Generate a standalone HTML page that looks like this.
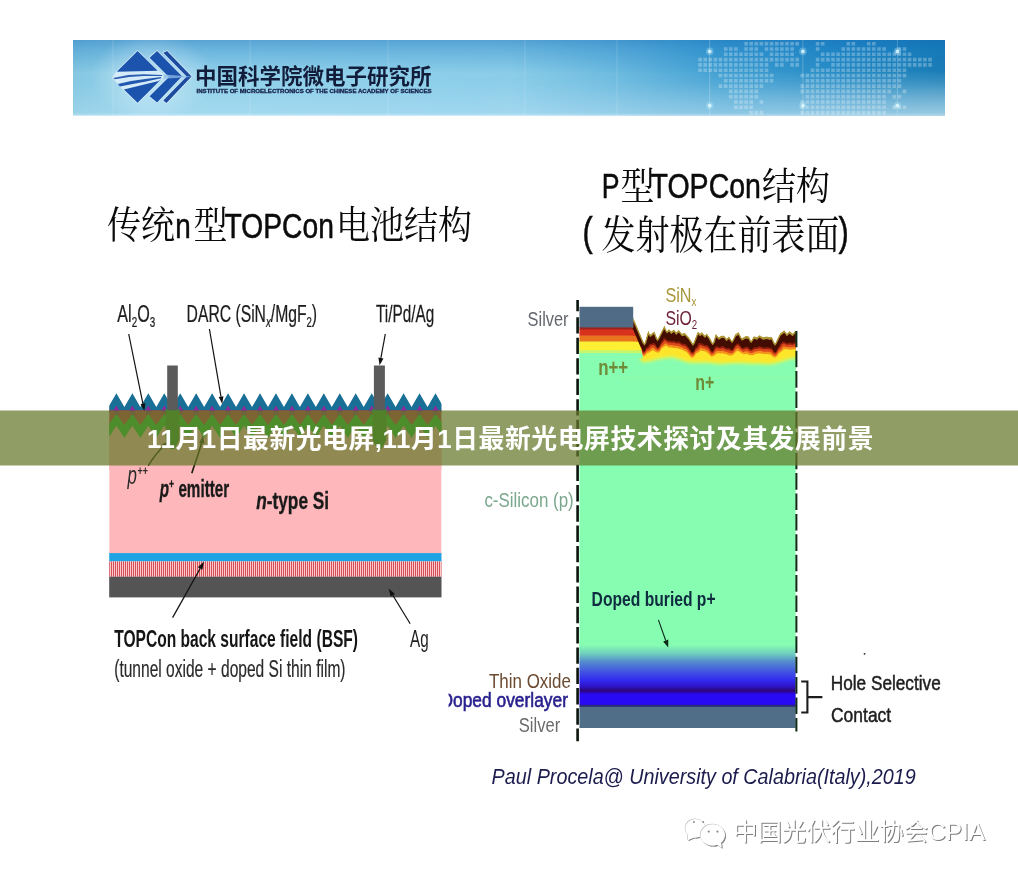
<!DOCTYPE html>
<html><head><meta charset="utf-8"><title>TOPCon</title>
<style>
html,body{margin:0;padding:0;background:#fff;}
body{width:1018px;height:877px;overflow:hidden;font-family:"Liberation Sans",sans-serif;}
svg{display:block;opacity:0.999;}
</style></head><body>
<svg width="1018" height="877" viewBox="0 0 1018 877" role="img" aria-label="11月1日最新光电屏,11月1日最新光电屏技术探讨及其发展前景">
<title>11月1日最新光电屏,11月1日最新光电屏技术探讨及其发展前景</title>
<desc>中国科学院微电子研究所 INSTITUTE OF MICROELECTRONICS OF THE CHINESE ACADEMY OF SCIENCES. 传统n型TOPCon电池结构; P型TOPCon结构 (发射极在前表面). 中国光伏行业协会CPIA</desc>
<defs>
<linearGradient id="bnH" x1="0" x2="1" y1="0" y2="0">
 <stop offset="0" stop-color="#86c8e2"/><stop offset="0.08" stop-color="#93d2ea"/><stop offset="0.5" stop-color="#8ccee9"/><stop offset="0.62" stop-color="#6dbbe0"/><stop offset="0.75" stop-color="#3f9fd2"/><stop offset="0.88" stop-color="#278cc6"/><stop offset="1" stop-color="#1a7db6"/>
</linearGradient>
<linearGradient id="bnV" x1="0" x2="0" y1="0" y2="1">
 <stop offset="0" stop-color="#0a64b4" stop-opacity="0.42"/><stop offset="0.12" stop-color="#0a6ebe" stop-opacity="0.3"/><stop offset="0.45" stop-color="#0a6ebe" stop-opacity="0"/><stop offset="0.6" stop-color="#d8f0ff" stop-opacity="0.02"/><stop offset="0.96" stop-color="#d8f0ff" stop-opacity="0.24"/><stop offset="1" stop-color="#e8f6fc" stop-opacity="0.5"/>
</linearGradient>
<linearGradient id="bnV2" x1="0" x2="0" y1="0" y2="1">
 <stop offset="0.4" stop-color="#cdeaf2" stop-opacity="0"/><stop offset="1" stop-color="#cdeaf2" stop-opacity="0.62"/>
</linearGradient>
<linearGradient id="mHg" x1="0" x2="1" y1="0" y2="0">
 <stop offset="0.45" stop-color="#000"/><stop offset="0.8" stop-color="#bbb"/><stop offset="1" stop-color="#fff"/>
</linearGradient>
<mask id="mH" maskUnits="userSpaceOnUse" x="73" y="40" width="872" height="76"><rect x="73" y="40" width="872" height="76" fill="url(#mHg)"/></mask>
<radialGradient id="glow" cx="0.5" cy="0.5" r="0.5">
 <stop offset="0" stop-color="#ffffff" stop-opacity="0.75"/><stop offset="0.6" stop-color="#ffffff" stop-opacity="0.35"/><stop offset="1" stop-color="#ffffff" stop-opacity="0"/>
</radialGradient>
<linearGradient id="rg" x1="0" x2="0" y1="0" y2="1">
 <stop offset="0" stop-color="#87fdb1"/><stop offset="0.09" stop-color="#87fdb1"/><stop offset="0.255" stop-color="#6ecdbe"/><stop offset="0.396" stop-color="#558ccd"/><stop offset="0.58" stop-color="#4155e1"/><stop offset="0.744" stop-color="#3228f0"/><stop offset="0.85" stop-color="#2e14c8"/><stop offset="0.93" stop-color="#2d0578"/><stop offset="1" stop-color="#280af5"/>
</linearGradient>
<pattern id="stripes" x="109" y="0" width="2" height="16" patternUnits="userSpaceOnUse">
 <rect x="0" y="0" width="2" height="16" fill="#fcc9c9"/><rect x="0" y="0" width="0.85" height="16" fill="#cf3a44"/>
</pattern>
<filter id="b1" x="-5%" y="-50%" width="110%" height="200%"><feGaussianBlur stdDeviation="0.7"/></filter>
<filter id="b2" x="-5%" y="-50%" width="110%" height="200%"><feGaussianBlur stdDeviation="1.4"/></filter>
<filter id="soft"><feGaussianBlur stdDeviation="0.45"/></filter>
<clipPath id="leftclip"><rect x="109.2" y="380" width="332.3" height="220"/></clipPath>
<clipPath id="rightclip"><rect x="579.2" y="300" width="216.6" height="430"/></clipPath>
<clipPath id="bnclip"><rect x="73" y="40" width="872" height="75.5"/></clipPath>
</defs>
<rect x="73" y="40" width="872" height="75.5" fill="url(#bnH)"/>
<rect x="73" y="40" width="872" height="75.5" fill="url(#bnV)"/>
<rect x="73" y="40" width="872" height="75.5" fill="url(#bnV2)" mask="url(#mH)"/>
<g clip-path="url(#bnclip)">
<ellipse cx="152" cy="77" rx="62" ry="44" fill="url(#glow)" opacity="0.55"/>
<rect x="112.5" y="40" width="1" height="76" fill="#ffffff" opacity="0.16"/>
<rect x="249.5" y="40" width="1" height="76" fill="#ffffff" opacity="0.16"/>
<rect x="387.5" y="40" width="1" height="76" fill="#ffffff" opacity="0.16"/>
<rect x="524.5" y="40" width="1" height="76" fill="#ffffff" opacity="0.16"/>
<rect x="616.5" y="40" width="1" height="76" fill="#ffffff" opacity="0.16"/>
<path d="M744.3 41.9h3.6v3.6h-3.6zM749.4 41.9h3.6v3.6h-3.6zM754.5 41.9h3.6v3.6h-3.6zM759.6 41.9h3.6v3.6h-3.6zM764.7 41.9h3.6v3.6h-3.6zM769.8 41.9h3.6v3.6h-3.6zM775.0 41.9h3.6v3.6h-3.6zM780.1 41.9h3.6v3.6h-3.6zM785.2 41.9h3.6v3.6h-3.6zM790.3 41.9h3.6v3.6h-3.6zM795.4 41.9h3.6v3.6h-3.6zM815.8 41.9h3.6v3.6h-3.6zM820.9 41.9h3.6v3.6h-3.6zM846.5 41.9h3.6v3.6h-3.6zM851.6 41.9h3.6v3.6h-3.6zM866.9 41.9h3.6v3.6h-3.6zM872.0 41.9h3.6v3.6h-3.6zM723.9 47.2h3.6v3.6h-3.6zM729.0 47.2h3.6v3.6h-3.6zM734.1 47.2h3.6v3.6h-3.6zM744.3 47.2h3.6v3.6h-3.6zM749.4 47.2h3.6v3.6h-3.6zM754.5 47.2h3.6v3.6h-3.6zM764.7 47.2h3.6v3.6h-3.6zM769.8 47.2h3.6v3.6h-3.6zM775.0 47.2h3.6v3.6h-3.6zM780.1 47.2h3.6v3.6h-3.6zM785.2 47.2h3.6v3.6h-3.6zM790.3 47.2h3.6v3.6h-3.6zM815.8 47.2h3.6v3.6h-3.6zM841.4 47.2h3.6v3.6h-3.6zM846.5 47.2h3.6v3.6h-3.6zM851.6 47.2h3.6v3.6h-3.6zM856.7 47.2h3.6v3.6h-3.6zM861.8 47.2h3.6v3.6h-3.6zM866.9 47.2h3.6v3.6h-3.6zM872.0 47.2h3.6v3.6h-3.6zM877.2 47.2h3.6v3.6h-3.6zM882.3 47.2h3.6v3.6h-3.6zM897.6 47.2h3.6v3.6h-3.6zM902.7 47.2h3.6v3.6h-3.6zM723.9 52.5h3.6v3.6h-3.6zM729.0 52.5h3.6v3.6h-3.6zM734.1 52.5h3.6v3.6h-3.6zM739.2 52.5h3.6v3.6h-3.6zM744.3 52.5h3.6v3.6h-3.6zM749.4 52.5h3.6v3.6h-3.6zM754.5 52.5h3.6v3.6h-3.6zM759.6 52.5h3.6v3.6h-3.6zM769.8 52.5h3.6v3.6h-3.6zM775.0 52.5h3.6v3.6h-3.6zM780.1 52.5h3.6v3.6h-3.6zM785.2 52.5h3.6v3.6h-3.6zM790.3 52.5h3.6v3.6h-3.6zM820.9 52.5h3.6v3.6h-3.6zM826.1 52.5h3.6v3.6h-3.6zM831.2 52.5h3.6v3.6h-3.6zM836.3 52.5h3.6v3.6h-3.6zM841.4 52.5h3.6v3.6h-3.6zM846.5 52.5h3.6v3.6h-3.6zM851.6 52.5h3.6v3.6h-3.6zM856.7 52.5h3.6v3.6h-3.6zM861.8 52.5h3.6v3.6h-3.6zM866.9 52.5h3.6v3.6h-3.6zM872.0 52.5h3.6v3.6h-3.6zM877.2 52.5h3.6v3.6h-3.6zM882.3 52.5h3.6v3.6h-3.6zM887.4 52.5h3.6v3.6h-3.6zM892.5 52.5h3.6v3.6h-3.6zM897.6 52.5h3.6v3.6h-3.6zM902.7 52.5h3.6v3.6h-3.6zM907.8 52.5h3.6v3.6h-3.6zM698.3 57.8h3.6v3.6h-3.6zM703.4 57.8h3.6v3.6h-3.6zM708.5 57.8h3.6v3.6h-3.6zM713.6 57.8h3.6v3.6h-3.6zM718.7 57.8h3.6v3.6h-3.6zM723.9 57.8h3.6v3.6h-3.6zM729.0 57.8h3.6v3.6h-3.6zM734.1 57.8h3.6v3.6h-3.6zM739.2 57.8h3.6v3.6h-3.6zM744.3 57.8h3.6v3.6h-3.6zM749.4 57.8h3.6v3.6h-3.6zM754.5 57.8h3.6v3.6h-3.6zM759.6 57.8h3.6v3.6h-3.6zM764.7 57.8h3.6v3.6h-3.6zM769.8 57.8h3.6v3.6h-3.6zM775.0 57.8h3.6v3.6h-3.6zM780.1 57.8h3.6v3.6h-3.6zM785.2 57.8h3.6v3.6h-3.6zM790.3 57.8h3.6v3.6h-3.6zM795.4 57.8h3.6v3.6h-3.6zM815.8 57.8h3.6v3.6h-3.6zM820.9 57.8h3.6v3.6h-3.6zM826.1 57.8h3.6v3.6h-3.6zM831.2 57.8h3.6v3.6h-3.6zM836.3 57.8h3.6v3.6h-3.6zM841.4 57.8h3.6v3.6h-3.6zM846.5 57.8h3.6v3.6h-3.6zM851.6 57.8h3.6v3.6h-3.6zM856.7 57.8h3.6v3.6h-3.6zM861.8 57.8h3.6v3.6h-3.6zM866.9 57.8h3.6v3.6h-3.6zM872.0 57.8h3.6v3.6h-3.6zM877.2 57.8h3.6v3.6h-3.6zM882.3 57.8h3.6v3.6h-3.6zM887.4 57.8h3.6v3.6h-3.6zM892.5 57.8h3.6v3.6h-3.6zM897.6 57.8h3.6v3.6h-3.6zM902.7 57.8h3.6v3.6h-3.6zM907.8 57.8h3.6v3.6h-3.6zM912.9 57.8h3.6v3.6h-3.6zM918.0 57.8h3.6v3.6h-3.6zM923.1 57.8h3.6v3.6h-3.6zM928.3 57.8h3.6v3.6h-3.6zM698.3 63.1h3.6v3.6h-3.6zM703.4 63.1h3.6v3.6h-3.6zM708.5 63.1h3.6v3.6h-3.6zM713.6 63.1h3.6v3.6h-3.6zM718.7 63.1h3.6v3.6h-3.6zM723.9 63.1h3.6v3.6h-3.6zM729.0 63.1h3.6v3.6h-3.6zM734.1 63.1h3.6v3.6h-3.6zM739.2 63.1h3.6v3.6h-3.6zM744.3 63.1h3.6v3.6h-3.6zM749.4 63.1h3.6v3.6h-3.6zM754.5 63.1h3.6v3.6h-3.6zM759.6 63.1h3.6v3.6h-3.6zM764.7 63.1h3.6v3.6h-3.6zM775.0 63.1h3.6v3.6h-3.6zM780.1 63.1h3.6v3.6h-3.6zM790.3 63.1h3.6v3.6h-3.6zM795.4 63.1h3.6v3.6h-3.6zM815.8 63.1h3.6v3.6h-3.6zM831.2 63.1h3.6v3.6h-3.6zM836.3 63.1h3.6v3.6h-3.6zM841.4 63.1h3.6v3.6h-3.6zM846.5 63.1h3.6v3.6h-3.6zM851.6 63.1h3.6v3.6h-3.6zM856.7 63.1h3.6v3.6h-3.6zM861.8 63.1h3.6v3.6h-3.6zM866.9 63.1h3.6v3.6h-3.6zM872.0 63.1h3.6v3.6h-3.6zM877.2 63.1h3.6v3.6h-3.6zM882.3 63.1h3.6v3.6h-3.6zM887.4 63.1h3.6v3.6h-3.6zM892.5 63.1h3.6v3.6h-3.6zM897.6 63.1h3.6v3.6h-3.6zM902.7 63.1h3.6v3.6h-3.6zM907.8 63.1h3.6v3.6h-3.6zM912.9 63.1h3.6v3.6h-3.6zM918.0 63.1h3.6v3.6h-3.6zM923.1 63.1h3.6v3.6h-3.6zM928.3 63.1h3.6v3.6h-3.6zM698.3 68.4h3.6v3.6h-3.6zM703.4 68.4h3.6v3.6h-3.6zM708.5 68.4h3.6v3.6h-3.6zM713.6 68.4h3.6v3.6h-3.6zM718.7 68.4h3.6v3.6h-3.6zM723.9 68.4h3.6v3.6h-3.6zM729.0 68.4h3.6v3.6h-3.6zM734.1 68.4h3.6v3.6h-3.6zM739.2 68.4h3.6v3.6h-3.6zM744.3 68.4h3.6v3.6h-3.6zM749.4 68.4h3.6v3.6h-3.6zM754.5 68.4h3.6v3.6h-3.6zM759.6 68.4h3.6v3.6h-3.6zM764.7 68.4h3.6v3.6h-3.6zM810.7 68.4h3.6v3.6h-3.6zM815.8 68.4h3.6v3.6h-3.6zM820.9 68.4h3.6v3.6h-3.6zM826.1 68.4h3.6v3.6h-3.6zM831.2 68.4h3.6v3.6h-3.6zM836.3 68.4h3.6v3.6h-3.6zM841.4 68.4h3.6v3.6h-3.6zM846.5 68.4h3.6v3.6h-3.6zM851.6 68.4h3.6v3.6h-3.6zM856.7 68.4h3.6v3.6h-3.6zM861.8 68.4h3.6v3.6h-3.6zM866.9 68.4h3.6v3.6h-3.6zM872.0 68.4h3.6v3.6h-3.6zM877.2 68.4h3.6v3.6h-3.6zM882.3 68.4h3.6v3.6h-3.6zM887.4 68.4h3.6v3.6h-3.6zM892.5 68.4h3.6v3.6h-3.6zM897.6 68.4h3.6v3.6h-3.6zM902.7 68.4h3.6v3.6h-3.6zM718.7 73.7h3.6v3.6h-3.6zM723.9 73.7h3.6v3.6h-3.6zM729.0 73.7h3.6v3.6h-3.6zM734.1 73.7h3.6v3.6h-3.6zM739.2 73.7h3.6v3.6h-3.6zM744.3 73.7h3.6v3.6h-3.6zM749.4 73.7h3.6v3.6h-3.6zM754.5 73.7h3.6v3.6h-3.6zM759.6 73.7h3.6v3.6h-3.6zM764.7 73.7h3.6v3.6h-3.6zM769.8 73.7h3.6v3.6h-3.6zM800.5 73.7h3.6v3.6h-3.6zM805.6 73.7h3.6v3.6h-3.6zM810.7 73.7h3.6v3.6h-3.6zM815.8 73.7h3.6v3.6h-3.6zM820.9 73.7h3.6v3.6h-3.6zM826.1 73.7h3.6v3.6h-3.6zM831.2 73.7h3.6v3.6h-3.6zM836.3 73.7h3.6v3.6h-3.6zM841.4 73.7h3.6v3.6h-3.6zM846.5 73.7h3.6v3.6h-3.6zM851.6 73.7h3.6v3.6h-3.6zM856.7 73.7h3.6v3.6h-3.6zM861.8 73.7h3.6v3.6h-3.6zM866.9 73.7h3.6v3.6h-3.6zM872.0 73.7h3.6v3.6h-3.6zM877.2 73.7h3.6v3.6h-3.6zM882.3 73.7h3.6v3.6h-3.6zM887.4 73.7h3.6v3.6h-3.6zM892.5 73.7h3.6v3.6h-3.6zM897.6 73.7h3.6v3.6h-3.6zM902.7 73.7h3.6v3.6h-3.6zM723.9 79.0h3.6v3.6h-3.6zM729.0 79.0h3.6v3.6h-3.6zM734.1 79.0h3.6v3.6h-3.6zM739.2 79.0h3.6v3.6h-3.6zM744.3 79.0h3.6v3.6h-3.6zM749.4 79.0h3.6v3.6h-3.6zM754.5 79.0h3.6v3.6h-3.6zM759.6 79.0h3.6v3.6h-3.6zM764.7 79.0h3.6v3.6h-3.6zM769.8 79.0h3.6v3.6h-3.6zM805.6 79.0h3.6v3.6h-3.6zM810.7 79.0h3.6v3.6h-3.6zM815.8 79.0h3.6v3.6h-3.6zM820.9 79.0h3.6v3.6h-3.6zM826.1 79.0h3.6v3.6h-3.6zM831.2 79.0h3.6v3.6h-3.6zM836.3 79.0h3.6v3.6h-3.6zM841.4 79.0h3.6v3.6h-3.6zM846.5 79.0h3.6v3.6h-3.6zM851.6 79.0h3.6v3.6h-3.6zM856.7 79.0h3.6v3.6h-3.6zM861.8 79.0h3.6v3.6h-3.6zM866.9 79.0h3.6v3.6h-3.6zM872.0 79.0h3.6v3.6h-3.6zM877.2 79.0h3.6v3.6h-3.6zM882.3 79.0h3.6v3.6h-3.6zM887.4 79.0h3.6v3.6h-3.6zM892.5 79.0h3.6v3.6h-3.6zM897.6 79.0h3.6v3.6h-3.6zM718.7 84.3h3.6v3.6h-3.6zM723.9 84.3h3.6v3.6h-3.6zM729.0 84.3h3.6v3.6h-3.6zM734.1 84.3h3.6v3.6h-3.6zM739.2 84.3h3.6v3.6h-3.6zM744.3 84.3h3.6v3.6h-3.6zM749.4 84.3h3.6v3.6h-3.6zM754.5 84.3h3.6v3.6h-3.6zM759.6 84.3h3.6v3.6h-3.6zM800.5 84.3h3.6v3.6h-3.6zM805.6 84.3h3.6v3.6h-3.6zM810.7 84.3h3.6v3.6h-3.6zM815.8 84.3h3.6v3.6h-3.6zM820.9 84.3h3.6v3.6h-3.6zM826.1 84.3h3.6v3.6h-3.6zM831.2 84.3h3.6v3.6h-3.6zM836.3 84.3h3.6v3.6h-3.6zM841.4 84.3h3.6v3.6h-3.6zM846.5 84.3h3.6v3.6h-3.6zM851.6 84.3h3.6v3.6h-3.6zM856.7 84.3h3.6v3.6h-3.6zM861.8 84.3h3.6v3.6h-3.6zM866.9 84.3h3.6v3.6h-3.6zM872.0 84.3h3.6v3.6h-3.6zM877.2 84.3h3.6v3.6h-3.6zM882.3 84.3h3.6v3.6h-3.6zM887.4 84.3h3.6v3.6h-3.6zM892.5 84.3h3.6v3.6h-3.6zM897.6 84.3h3.6v3.6h-3.6zM729.0 89.6h3.6v3.6h-3.6zM734.1 89.6h3.6v3.6h-3.6zM739.2 89.6h3.6v3.6h-3.6zM744.3 89.6h3.6v3.6h-3.6zM749.4 89.6h3.6v3.6h-3.6zM754.5 89.6h3.6v3.6h-3.6zM800.5 89.6h3.6v3.6h-3.6zM805.6 89.6h3.6v3.6h-3.6zM810.7 89.6h3.6v3.6h-3.6zM815.8 89.6h3.6v3.6h-3.6zM820.9 89.6h3.6v3.6h-3.6zM826.1 89.6h3.6v3.6h-3.6zM831.2 89.6h3.6v3.6h-3.6zM836.3 89.6h3.6v3.6h-3.6zM841.4 89.6h3.6v3.6h-3.6zM846.5 89.6h3.6v3.6h-3.6zM851.6 89.6h3.6v3.6h-3.6zM856.7 89.6h3.6v3.6h-3.6zM861.8 89.6h3.6v3.6h-3.6zM866.9 89.6h3.6v3.6h-3.6zM872.0 89.6h3.6v3.6h-3.6zM877.2 89.6h3.6v3.6h-3.6zM882.3 89.6h3.6v3.6h-3.6zM887.4 89.6h3.6v3.6h-3.6zM902.7 89.6h3.6v3.6h-3.6zM729.0 94.9h3.6v3.6h-3.6zM734.1 94.9h3.6v3.6h-3.6zM739.2 94.9h3.6v3.6h-3.6zM744.3 94.9h3.6v3.6h-3.6zM749.4 94.9h3.6v3.6h-3.6zM754.5 94.9h3.6v3.6h-3.6zM805.6 94.9h3.6v3.6h-3.6zM810.7 94.9h3.6v3.6h-3.6zM815.8 94.9h3.6v3.6h-3.6zM820.9 94.9h3.6v3.6h-3.6zM826.1 94.9h3.6v3.6h-3.6zM831.2 94.9h3.6v3.6h-3.6zM836.3 94.9h3.6v3.6h-3.6zM841.4 94.9h3.6v3.6h-3.6zM846.5 94.9h3.6v3.6h-3.6zM851.6 94.9h3.6v3.6h-3.6zM856.7 94.9h3.6v3.6h-3.6zM861.8 94.9h3.6v3.6h-3.6zM866.9 94.9h3.6v3.6h-3.6zM872.0 94.9h3.6v3.6h-3.6zM877.2 94.9h3.6v3.6h-3.6zM882.3 94.9h3.6v3.6h-3.6zM892.5 94.9h3.6v3.6h-3.6zM897.6 94.9h3.6v3.6h-3.6zM734.1 100.2h3.6v3.6h-3.6zM739.2 100.2h3.6v3.6h-3.6zM744.3 100.2h3.6v3.6h-3.6zM749.4 100.2h3.6v3.6h-3.6zM759.6 100.2h3.6v3.6h-3.6zM800.5 100.2h3.6v3.6h-3.6zM805.6 100.2h3.6v3.6h-3.6zM810.7 100.2h3.6v3.6h-3.6zM815.8 100.2h3.6v3.6h-3.6zM820.9 100.2h3.6v3.6h-3.6zM826.1 100.2h3.6v3.6h-3.6zM831.2 100.2h3.6v3.6h-3.6zM836.3 100.2h3.6v3.6h-3.6zM841.4 100.2h3.6v3.6h-3.6zM846.5 100.2h3.6v3.6h-3.6zM851.6 100.2h3.6v3.6h-3.6zM856.7 100.2h3.6v3.6h-3.6zM861.8 100.2h3.6v3.6h-3.6zM866.9 100.2h3.6v3.6h-3.6zM872.0 100.2h3.6v3.6h-3.6zM877.2 100.2h3.6v3.6h-3.6zM882.3 100.2h3.6v3.6h-3.6zM734.1 105.5h3.6v3.6h-3.6zM739.2 105.5h3.6v3.6h-3.6zM744.3 105.5h3.6v3.6h-3.6zM749.4 105.5h3.6v3.6h-3.6zM800.5 105.5h3.6v3.6h-3.6zM805.6 105.5h3.6v3.6h-3.6zM810.7 105.5h3.6v3.6h-3.6zM815.8 105.5h3.6v3.6h-3.6zM820.9 105.5h3.6v3.6h-3.6zM826.1 105.5h3.6v3.6h-3.6zM831.2 105.5h3.6v3.6h-3.6zM836.3 105.5h3.6v3.6h-3.6zM841.4 105.5h3.6v3.6h-3.6zM846.5 105.5h3.6v3.6h-3.6zM851.6 105.5h3.6v3.6h-3.6zM856.7 105.5h3.6v3.6h-3.6zM861.8 105.5h3.6v3.6h-3.6zM866.9 105.5h3.6v3.6h-3.6zM872.0 105.5h3.6v3.6h-3.6zM877.2 105.5h3.6v3.6h-3.6zM882.3 105.5h3.6v3.6h-3.6zM892.5 105.5h3.6v3.6h-3.6zM897.6 105.5h3.6v3.6h-3.6zM902.7 105.5h3.6v3.6h-3.6zM749.4 110.8h3.6v3.6h-3.6zM754.5 110.8h3.6v3.6h-3.6zM759.6 110.8h3.6v3.6h-3.6zM800.5 110.8h3.6v3.6h-3.6zM805.6 110.8h3.6v3.6h-3.6zM810.7 110.8h3.6v3.6h-3.6zM815.8 110.8h3.6v3.6h-3.6zM820.9 110.8h3.6v3.6h-3.6zM826.1 110.8h3.6v3.6h-3.6zM831.2 110.8h3.6v3.6h-3.6zM836.3 110.8h3.6v3.6h-3.6zM841.4 110.8h3.6v3.6h-3.6zM846.5 110.8h3.6v3.6h-3.6zM851.6 110.8h3.6v3.6h-3.6zM856.7 110.8h3.6v3.6h-3.6zM861.8 110.8h3.6v3.6h-3.6zM866.9 110.8h3.6v3.6h-3.6zM872.0 110.8h3.6v3.6h-3.6zM877.2 110.8h3.6v3.6h-3.6zM882.3 110.8h3.6v3.6h-3.6z" fill="#ffffff" opacity="0.27" filter="url(#soft)"/>
<rect x="709.2" y="40" width="1" height="76" fill="#ffffff" opacity="0.22"/>
<circle cx="709.7" cy="51.4" r="3.8" fill="#bfefff" opacity="0.3"/>
<circle cx="709.7" cy="51.4" r="1.9" fill="#e6fbff" opacity="0.8"/>
<circle cx="709.7" cy="105.6" r="3.8" fill="#bfefff" opacity="0.3"/>
<circle cx="709.7" cy="105.6" r="1.9" fill="#e6fbff" opacity="0.8"/>
<rect x="802.4" y="40" width="1" height="76" fill="#ffffff" opacity="0.22"/>
<circle cx="802.9" cy="51.4" r="3.8" fill="#bfefff" opacity="0.3"/>
<circle cx="802.9" cy="51.4" r="1.9" fill="#e6fbff" opacity="0.8"/>
<circle cx="802.9" cy="105.6" r="3.8" fill="#bfefff" opacity="0.3"/>
<circle cx="802.9" cy="105.6" r="1.9" fill="#e6fbff" opacity="0.8"/>
<rect x="896.9" y="40" width="1" height="76" fill="#ffffff" opacity="0.22"/>
<circle cx="897.4" cy="51.4" r="3.8" fill="#bfefff" opacity="0.3"/>
<circle cx="897.4" cy="51.4" r="1.9" fill="#e6fbff" opacity="0.8"/>
<circle cx="897.4" cy="105.6" r="3.8" fill="#bfefff" opacity="0.3"/>
<circle cx="897.4" cy="105.6" r="1.9" fill="#e6fbff" opacity="0.8"/>
</g>
<g filter="url(#soft)">
<path d="M117.3 71.5L157.7 70.5L163.5 76.3L161.1 79.4L158.6 81.3L123.9 89.4L113.1 77.7Z" fill="#d6ebf8" stroke="#d3ebf8" stroke-width="1.6" stroke-linejoin="round" paint-order="stroke"/>
<path d="M137.6 51.1L157.7 70.7L117.3 71.8L117.2 71.2Z" fill="#1d52ac" stroke="#d3ebf8" stroke-width="1.6" stroke-linejoin="round" paint-order="stroke"/>
<path d="M123.9 89.4L158.6 81.1L161.2 79.2L137.6 102.8Z" fill="#1d52ac" stroke="#d3ebf8" stroke-width="1.6" stroke-linejoin="round" paint-order="stroke"/>
<path d="M113.1 78.0L128.3 75.1L143.4 74.2L162.1 75.1L162.1 75.9L143.4 75.9L129.2 77.1L114.9 79.2Z" fill="#2a5db2"/>
<path d="M117.9 84.0L131.0 81.0L145.1 78.9L161.2 77.1L161.2 78.2L146.0 81.5L132.8 84.0L119.9 86.4Z" fill="#2358b0"/>
<path d="M149.6 57.7L157.1 51.1L182.1 76.3L157.1 102.4L149.6 96.2L169.0 76.9Z" fill="#1d52ac" stroke="#d3ebf8" stroke-width="1.6" stroke-linejoin="round" paint-order="stroke"/>
<path d="M163.3 52.7L167.1 51.1L191.6 76.5L166.5 102.9L163.3 100.6L186.7 76.5Z" fill="#1c4c9f" stroke="#d3ebf8" stroke-width="1.6" stroke-linejoin="round" paint-order="stroke"/>
<path d="M163.7 74.5L191.1 76.4L191.1 76.9L163.7 78.7Z" fill="#8fbdea" opacity="0.75"/>
</g>
<text x="195" y="84" font-family="'Liberation Sans', 'Noto Sans CJK SC', sans-serif" font-size="21.5" font-weight="bold" fill="#121d3c">中国科学院微电子研究所</text>
<text transform="translate(196.50 93.10) scale(1.0700 1)" font-family="Liberation Sans, sans-serif" fill="#16224a" xml:space="preserve" stroke="#16224a" stroke-width="0.3"><tspan font-size="5.7" font-weight="bold" font-style="normal" dy="0">INSTITUTE OF MICROELECTRONICS OF THE CHINESE ACADEMY OF SCIENCES</tspan></text>
<text transform="translate(107.00 237.80) scale(0.895 1)" font-family="'Liberation Sans', 'Noto Serif CJK SC', serif" font-size="38" fill="#0b0b0b">传统</text>
<text transform="translate(193.50 237.80) scale(0.895 1)" font-family="'Liberation Sans', 'Noto Serif CJK SC', serif" font-size="38" fill="#0b0b0b">型</text>
<text transform="translate(336.00 237.80) scale(0.895 1)" font-family="'Liberation Sans', 'Noto Serif CJK SC', serif" font-size="38" fill="#0b0b0b">电池结构</text>
<text transform="translate(620.50 198.60) scale(0.895 1)" font-family="'Liberation Sans', 'Noto Serif CJK SC', serif" font-size="38" fill="#0b0b0b">型</text>
<text transform="translate(762.00 198.60) scale(0.895 1)" font-family="'Liberation Sans', 'Noto Serif CJK SC', serif" font-size="38" fill="#0b0b0b">结构</text>
<text transform="translate(601.50 249.00) scale(0.85 1)" font-family="'Liberation Sans', 'Noto Serif CJK SC', serif" font-size="40" fill="#0b0b0b">发射极在前表面</text>
<text transform="translate(175.30 237.80) scale(0.8008 1)" font-family="Liberation Sans, sans-serif" fill="#0b0b0b" xml:space="preserve" stroke="#0b0b0b" stroke-width="0.55"><tspan font-size="34.8" font-weight="normal" font-style="normal" dy="0">n</tspan></text>
<text transform="translate(224.50 237.80) scale(0.8126 1)" font-family="Liberation Sans, sans-serif" fill="#0b0b0b" xml:space="preserve" stroke="#0b0b0b" stroke-width="0.55"><tspan font-size="34.8" font-weight="normal" font-style="normal" dy="0">TOPCon</tspan></text>
<text transform="translate(601.80 198.40) scale(0.7669 1)" font-family="Liberation Sans, sans-serif" fill="#0b0b0b" xml:space="preserve" stroke="#0b0b0b" stroke-width="0.55"><tspan font-size="34.8" font-weight="normal" font-style="normal" dy="0">P</tspan></text>
<text transform="translate(650.50 198.40) scale(0.8200 1)" font-family="Liberation Sans, sans-serif" fill="#0b0b0b" xml:space="preserve" stroke="#0b0b0b" stroke-width="0.55"><tspan font-size="34.8" font-weight="normal" font-style="normal" dy="0">TOPCon</tspan></text>
<text transform="translate(582.60 246.40) scale(0.7657 1)" font-family="Liberation Sans, sans-serif" fill="#0b0b0b" xml:space="preserve" stroke="#0b0b0b" stroke-width="0.55"><tspan font-size="40" font-weight="normal" font-style="normal" dy="0">(</tspan></text>
<text transform="translate(838.40 246.40) scale(0.7657 1)" font-family="Liberation Sans, sans-serif" fill="#0b0b0b" xml:space="preserve" stroke="#0b0b0b" stroke-width="0.55"><tspan font-size="40" font-weight="normal" font-style="normal" dy="0">)</tspan></text>
<g clip-path="url(#leftclip)">
<rect x="109.2" y="410" width="332.3" height="144" fill="#feb8bc"/>
<path d="M92.47 407.10L100.45 393.30L108.42 407.10L116.40 393.30L124.38 407.10L132.36 393.30L140.33 407.10L148.31 393.30L156.29 407.10L164.27 393.30L172.24 407.10L180.22 393.30L188.20 407.10L196.18 393.30L204.15 407.10L212.13 393.30L220.11 407.10L228.09 393.30L236.06 407.10L244.04 393.30L252.02 407.10L260.00 393.30L267.97 407.10L275.95 393.30L283.93 407.10L291.90 393.30L299.88 407.10L307.86 393.30L315.84 407.10L323.81 393.30L331.79 407.10L339.77 393.30L347.75 407.10L355.73 393.30L363.70 407.10L371.68 393.30L379.66 407.10L387.63 393.30L395.61 407.10L403.59 393.30L411.57 407.10L419.54 393.30L427.52 407.10L435.50 393.30L443.48 407.10L451.46 393.30L460 413L90 413Z" fill="#1a6f96"/>
<rect x="109.2" y="410.3" width="332.3" height="20" fill="#b8324e"/>
<path d="M112.90 411.5L116.40 405.4L119.90 411.5Z" fill="#8e2a9c" filter="url(#soft)"/>
<rect x="114.20" y="410.3" width="4.4" height="5" fill="#5a2f7a" opacity="0.55"/>
<path d="M128.86 411.5L132.36 405.4L135.86 411.5Z" fill="#8e2a9c" filter="url(#soft)"/>
<rect x="130.16" y="410.3" width="4.4" height="5" fill="#5a2f7a" opacity="0.55"/>
<path d="M144.81 411.5L148.31 405.4L151.81 411.5Z" fill="#8e2a9c" filter="url(#soft)"/>
<rect x="146.11" y="410.3" width="4.4" height="5" fill="#5a2f7a" opacity="0.55"/>
<path d="M160.77 411.5L164.27 405.4L167.77 411.5Z" fill="#8e2a9c" filter="url(#soft)"/>
<rect x="162.07" y="410.3" width="4.4" height="5" fill="#5a2f7a" opacity="0.55"/>
<path d="M176.72 411.5L180.22 405.4L183.72 411.5Z" fill="#8e2a9c" filter="url(#soft)"/>
<rect x="178.02" y="410.3" width="4.4" height="5" fill="#5a2f7a" opacity="0.55"/>
<path d="M192.68 411.5L196.18 405.4L199.68 411.5Z" fill="#8e2a9c" filter="url(#soft)"/>
<rect x="193.98" y="410.3" width="4.4" height="5" fill="#5a2f7a" opacity="0.55"/>
<path d="M208.63 411.5L212.13 405.4L215.63 411.5Z" fill="#8e2a9c" filter="url(#soft)"/>
<rect x="209.93" y="410.3" width="4.4" height="5" fill="#5a2f7a" opacity="0.55"/>
<path d="M224.59 411.5L228.09 405.4L231.59 411.5Z" fill="#8e2a9c" filter="url(#soft)"/>
<rect x="225.89" y="410.3" width="4.4" height="5" fill="#5a2f7a" opacity="0.55"/>
<path d="M240.54 411.5L244.04 405.4L247.54 411.5Z" fill="#8e2a9c" filter="url(#soft)"/>
<rect x="241.84" y="410.3" width="4.4" height="5" fill="#5a2f7a" opacity="0.55"/>
<path d="M256.50 411.5L260.00 405.4L263.50 411.5Z" fill="#8e2a9c" filter="url(#soft)"/>
<rect x="257.80" y="410.3" width="4.4" height="5" fill="#5a2f7a" opacity="0.55"/>
<path d="M272.45 411.5L275.95 405.4L279.45 411.5Z" fill="#8e2a9c" filter="url(#soft)"/>
<rect x="273.75" y="410.3" width="4.4" height="5" fill="#5a2f7a" opacity="0.55"/>
<path d="M288.40 411.5L291.90 405.4L295.40 411.5Z" fill="#8e2a9c" filter="url(#soft)"/>
<rect x="289.70" y="410.3" width="4.4" height="5" fill="#5a2f7a" opacity="0.55"/>
<path d="M304.36 411.5L307.86 405.4L311.36 411.5Z" fill="#8e2a9c" filter="url(#soft)"/>
<rect x="305.66" y="410.3" width="4.4" height="5" fill="#5a2f7a" opacity="0.55"/>
<path d="M320.31 411.5L323.81 405.4L327.31 411.5Z" fill="#8e2a9c" filter="url(#soft)"/>
<rect x="321.62" y="410.3" width="4.4" height="5" fill="#5a2f7a" opacity="0.55"/>
<path d="M336.27 411.5L339.77 405.4L343.27 411.5Z" fill="#8e2a9c" filter="url(#soft)"/>
<rect x="337.57" y="410.3" width="4.4" height="5" fill="#5a2f7a" opacity="0.55"/>
<path d="M352.23 411.5L355.73 405.4L359.23 411.5Z" fill="#8e2a9c" filter="url(#soft)"/>
<rect x="353.53" y="410.3" width="4.4" height="5" fill="#5a2f7a" opacity="0.55"/>
<path d="M368.18 411.5L371.68 405.4L375.18 411.5Z" fill="#8e2a9c" filter="url(#soft)"/>
<rect x="369.48" y="410.3" width="4.4" height="5" fill="#5a2f7a" opacity="0.55"/>
<path d="M384.13 411.5L387.63 405.4L391.13 411.5Z" fill="#8e2a9c" filter="url(#soft)"/>
<rect x="385.44" y="410.3" width="4.4" height="5" fill="#5a2f7a" opacity="0.55"/>
<path d="M400.09 411.5L403.59 405.4L407.09 411.5Z" fill="#8e2a9c" filter="url(#soft)"/>
<rect x="401.39" y="410.3" width="4.4" height="5" fill="#5a2f7a" opacity="0.55"/>
<path d="M416.04 411.5L419.54 405.4L423.04 411.5Z" fill="#8e2a9c" filter="url(#soft)"/>
<rect x="417.34" y="410.3" width="4.4" height="5" fill="#5a2f7a" opacity="0.55"/>
<path d="M432.00 411.5L435.50 405.4L439.00 411.5Z" fill="#8e2a9c" filter="url(#soft)"/>
<rect x="433.30" y="410.3" width="4.4" height="5" fill="#5a2f7a" opacity="0.55"/>
<path d="M92.47 424.90L100.45 413.90L108.42 424.90L116.40 413.90L124.38 424.90L132.36 413.90L140.33 424.90L148.31 413.90L156.29 424.90L164.27 413.90L172.24 424.90L180.22 413.90L188.20 424.90L196.18 413.90L204.15 424.90L212.13 413.90L220.11 424.90L228.09 413.90L236.06 424.90L244.04 413.90L252.02 424.90L260.00 413.90L267.97 424.90L275.95 413.90L283.93 424.90L291.90 413.90L299.88 424.90L307.86 413.90L315.84 424.90L323.81 413.90L331.79 424.90L339.77 413.90L347.75 424.90L355.73 413.90L363.70 424.90L371.68 413.90L379.66 424.90L387.63 413.90L395.61 424.90L403.59 413.90L411.57 424.90L419.54 413.90L427.52 424.90L435.50 413.90L443.48 424.90L451.46 413.90L451.46 425.70L443.48 438.30L435.50 425.70L427.52 438.30L419.54 425.70L411.57 438.30L403.59 425.70L395.61 438.30L387.63 425.70L379.66 438.30L371.68 425.70L363.70 438.30L355.73 425.70L347.75 438.30L339.77 425.70L331.79 438.30L323.81 425.70L315.84 438.30L307.86 425.70L299.88 438.30L291.90 425.70L283.93 438.30L275.95 425.70L267.97 438.30L260.00 425.70L252.02 438.30L244.04 425.70L236.06 438.30L228.09 425.70L220.11 438.30L212.13 425.70L204.15 438.30L196.18 425.70L188.20 438.30L180.22 425.70L172.24 438.30L164.27 425.70L156.29 438.30L148.31 425.70L140.33 438.30L132.36 425.70L124.38 438.30L116.40 425.70L108.42 438.30L100.45 425.70L92.47 438.30Z" fill="#12c430" />
<path d="M92.47 438.30L100.45 425.70L108.42 438.30L116.40 425.70L124.38 438.30L132.36 425.70L140.33 438.30L148.31 425.70L156.29 438.30L164.27 425.70L172.24 438.30L180.22 425.70L188.20 438.30L196.18 425.70L204.15 438.30L212.13 425.70L220.11 438.30L228.09 425.70L236.06 438.30L244.04 425.70L252.02 438.30L260.00 425.70L267.97 438.30L275.95 425.70L283.93 438.30L291.90 425.70L299.88 438.30L307.86 425.70L315.84 438.30L323.81 425.70L331.79 438.30L339.77 425.70L347.75 438.30L355.73 425.70L363.70 438.30L371.68 425.70L379.66 438.30L387.63 425.70L395.61 438.30L403.59 425.70L411.57 438.30L419.54 425.70L427.52 438.30L435.50 425.70L443.48 438.30L451.46 425.70L460 470L90 470Z" fill="#feb8bc"/>
<path d="M165.7 409L179.3 409L179.3 440L174.5 449L170.5 449L165.7 440Z" fill="#239a2c"/>
<path d="M372.4 409L386.4 409L386.4 440L381.4 449L377.4 449L372.4 440Z" fill="#239a2c"/>
</g>
<rect x="167.2" y="365.5" width="10.6" height="45" fill="#5b5b5b"/>
<rect x="373.9" y="365.5" width="11.0" height="45" fill="#5b5b5b"/>
<rect x="109.2" y="553.1" width="332.3" height="8.4" fill="#1ea3e3"/>
<rect x="109.2" y="561.4" width="332.3" height="15.4" fill="url(#stripes)"/>
<rect x="109.2" y="576.7" width="332.3" height="20.7" fill="#545454"/>
<text transform="translate(117.30 321.80) scale(0.6588 1)" font-family="Liberation Sans, sans-serif" fill="#1c1c1c" xml:space="preserve" stroke="#1c1c1c" stroke-width="0.25"><tspan font-size="24.5" font-weight="normal" font-style="normal" dy="0">Al</tspan><tspan font-size="15" font-weight="normal" font-style="normal" dy="5">2</tspan><tspan font-size="24.5" font-weight="normal" font-style="normal" dy="-5">O</tspan><tspan font-size="15" font-weight="normal" font-style="normal" dy="5">3</tspan></text>
<text transform="translate(186.60 321.80) scale(0.6412 1)" font-family="Liberation Sans, sans-serif" fill="#1c1c1c" xml:space="preserve" stroke="#1c1c1c" stroke-width="0.25"><tspan font-size="24.5" font-weight="normal" font-style="normal" dy="0">DARC (SiN</tspan><tspan font-size="15" font-weight="normal" font-style="italic" dy="5">x</tspan><tspan font-size="24.5" font-weight="normal" font-style="normal" dy="-5">/MgF</tspan><tspan font-size="15" font-weight="normal" font-style="normal" dy="5">2</tspan><tspan font-size="24.5" font-weight="normal" font-style="normal" dy="-5">)</tspan></text>
<text transform="translate(376.00 322.00) scale(0.6255 1)" font-family="Liberation Sans, sans-serif" fill="#1c1c1c" xml:space="preserve" stroke="#1c1c1c" stroke-width="0.25"><tspan font-size="24.5" font-weight="normal" font-style="normal" dy="0">Ti/Pd/Ag</tspan></text>
<path d="M128.7 334.0L142.9 403.7" stroke="#111" stroke-width="1.2" fill="none"/>
<path d="M144.4 411.0L140.5 404.1L145.3 403.2Z" fill="#111"/>
<path d="M209.4 329.0L221.0 396.6" stroke="#111" stroke-width="1.2" fill="none"/>
<path d="M222.3 404.0L218.7 397.0L223.4 396.2Z" fill="#111"/>
<path d="M385.3 334.0L380.9 357.9" stroke="#111" stroke-width="1.2" fill="none"/>
<path d="M379.6 365.3L378.4 357.5L383.5 358.4Z" fill="#111"/>
<text transform="translate(127.60 483.60) scale(0.6761 1)" font-family="Liberation Sans, sans-serif" fill="#2a2a2a" xml:space="preserve" ><tspan font-size="25" font-weight="normal" font-style="italic" dy="0">p</tspan></text>
<text transform="translate(137.60 475.20) scale(0.7123 1)" font-family="Liberation Sans, sans-serif" fill="#2a2a2a" xml:space="preserve" ><tspan font-size="12.5" font-weight="bold" font-style="normal" dy="0">++</tspan></text>
<text transform="translate(159.80 497.20) scale(0.6627 1)" font-family="Liberation Sans, sans-serif" fill="#1a1a1a" xml:space="preserve" stroke="#1a1a1a" stroke-width="0.35"><tspan font-size="23" font-weight="bold" font-style="italic" dy="0">p</tspan><tspan font-size="13" font-weight="bold" font-style="normal" dy="-9">+</tspan><tspan font-size="23" font-weight="bold" font-style="normal" dy="9"> emitter</tspan></text>
<text transform="translate(256.20 509.00) scale(0.7516 1)" font-family="Liberation Sans, sans-serif" fill="#1a1a1a" xml:space="preserve" stroke="#1a1a1a" stroke-width="0.35"><tspan font-size="23" font-weight="bold" font-style="italic" dy="0">n</tspan><tspan font-size="23" font-weight="bold" font-style="normal" dy="0">-type Si</tspan></text>
<path d="M148.3 465.6C153 458 158 451 165 445" stroke="#141c08" stroke-width="1.6" fill="none"/>
<path d="M167.6 441.6L161.6 444.6L165.2 448.4Z" fill="#1c2a10"/>
<path d="M191.8 473.2C195.4 462 199.6 451 201.8 442" stroke="#141c08" stroke-width="1.6" fill="none"/>
<path d="M203.0 435.6L199.2 443.0L204.4 443.8Z" fill="#1c2a10"/>
<text transform="translate(114.20 646.70) scale(0.6495 1)" font-family="Liberation Sans, sans-serif" fill="#151515" xml:space="preserve" ><tspan font-size="24" font-weight="bold" font-style="normal" dy="0">TOPCon back surface field (BSF)</tspan></text>
<text transform="translate(114.20 677.00) scale(0.6484 1)" font-family="Liberation Sans, sans-serif" fill="#2a2a2a" xml:space="preserve" stroke="#2a2a2a" stroke-width="0.2"><tspan font-size="24" font-weight="normal" font-style="normal" dy="0">(tunnel oxide + doped Si thin film)</tspan></text>
<text transform="translate(410.00 646.70) scale(0.6336 1)" font-family="Liberation Sans, sans-serif" fill="#222" xml:space="preserve" ><tspan font-size="24" font-weight="normal" font-style="normal" dy="0">Ag</tspan></text>
<path d="M172.6 617.6L200.1 568.6" stroke="#111" stroke-width="1.2" fill="none"/>
<path d="M204.0 561.6L202.4 569.8L197.8 567.3Z" fill="#111"/>
<path d="M410.2 623.7L392.8 595.2" stroke="#111" stroke-width="1.2" fill="none"/>
<path d="M388.6 588.4L395.0 593.9L390.6 596.6Z" fill="#111"/>
<g clip-path="url(#rightclip)">
<rect x="579.3" y="340" width="216.5" height="310" fill="#87fdb1"/>
<clipPath id="jagclip"><path d="M620 327.4L633.2 327.4L633.2 300L800 300L800 380L620 380Z"/></clipPath>
<g clip-path="url(#jagclip)">
<path d="M606.0 259.9L606.5 259.9L607.0 259.9L607.5 259.9L608.0 259.9L608.5 259.9L609.0 259.9L609.5 259.9L610.0 259.9L610.5 261.1L611.0 262.4L611.5 263.6L612.0 264.8L612.5 266.1L613.0 267.3L613.5 268.5L614.0 269.7L614.5 271.0L615.0 272.2L615.5 273.4L616.0 274.7L616.5 275.9L617.0 277.1L617.5 278.4L618.0 279.6L618.5 280.8L619.0 282.0L619.5 283.3L620.0 284.5L620.5 285.7L621.0 287.0L621.5 288.2L622.0 289.4L622.5 290.7L623.0 291.9L623.5 293.1L624.0 294.4L624.5 295.6L625.0 296.8L625.5 298.0L626.0 299.3L626.5 300.5L627.0 301.7L627.5 303.0L628.0 304.2L628.5 305.4L629.0 306.7L629.5 307.9L630.0 309.1L630.5 310.3L631.0 311.6L631.5 312.8L632.0 314.0L632.5 315.3L633.0 316.5L633.5 317.7L634.0 318.8L634.5 320.0L635.0 321.2L635.5 322.4L636.0 323.5L636.5 324.7L637.0 325.9L637.5 327.0L638.0 328.2L638.5 329.4L639.0 330.6L639.5 331.8L640.0 332.9L640.5 334.1L641.0 335.3L641.5 336.5L642.0 337.6L642.5 338.7L643.0 339.9L643.5 341.0L644.0 342.2L644.5 342.7L645.0 341.0L645.5 339.2L646.0 337.5L646.5 335.8L647.0 334.0L647.5 332.3L648.0 330.5L648.5 330.5L649.0 331.7L649.5 332.8L650.0 334.0L650.5 333.9L651.0 333.5L651.5 333.1L652.0 332.8L652.5 332.4L653.0 332.0L653.5 331.6L654.0 331.3L654.5 330.9L655.0 332.1L655.5 333.4L656.0 334.6L656.5 335.9L657.0 337.1L657.5 338.4L658.0 337.8L658.5 336.8L659.0 335.8L659.5 334.8L660.0 333.8L660.5 332.8L661.0 331.7L661.5 330.7L662.0 329.7L662.5 328.7L663.0 327.7L663.5 326.7L664.0 325.7L664.5 325.1L665.0 326.3L665.5 327.5L666.0 328.6L666.5 329.8L667.0 330.6L667.5 330.1L668.0 329.6L668.5 329.1L669.0 328.6L669.5 329.0L670.0 329.6L670.5 330.2L671.0 330.7L671.5 330.9L672.0 330.5L672.5 330.1L673.0 329.7L673.5 329.3L674.0 328.9L674.5 329.6L675.0 330.3L675.5 331.0L676.0 331.7L676.5 331.7L677.0 331.2L677.5 330.7L678.0 330.2L678.5 329.7L679.0 329.7L679.5 330.3L680.0 330.9L680.5 331.5L681.0 332.2L681.5 332.8L682.0 333.3L682.5 333.1L683.0 333.0L683.5 332.9L684.0 332.8L684.5 332.6L685.0 332.5L685.5 333.1L686.0 333.6L686.5 334.1L687.0 334.7L687.5 335.2L688.0 335.8L688.5 336.3L689.0 336.9L689.5 337.7L690.0 338.4L690.5 339.2L691.0 340.0L691.5 340.8L692.0 341.5L692.5 342.3L693.0 343.1L693.5 341.8L694.0 340.6L694.5 339.3L695.0 338.0L695.5 336.7L696.0 335.5L696.5 334.2L697.0 332.9L697.5 331.7L698.0 331.1L698.5 331.6L699.0 332.2L699.5 332.7L700.0 333.2L700.5 332.9L701.0 332.4L701.5 331.9L702.0 331.8L702.5 332.4L703.0 333.0L703.5 333.5L704.0 334.1L704.5 334.6L705.0 335.0L705.5 334.4L706.0 333.8L706.5 333.1L707.0 333.3L707.5 334.0L708.0 334.7L708.5 335.4L709.0 336.1L709.5 336.8L710.0 337.5L710.5 338.4L711.0 339.3L711.5 340.2L712.0 341.2L712.5 342.1L713.0 342.1L713.5 340.4L714.0 338.8L714.5 337.2L715.0 335.6L715.5 333.9L716.0 333.6L716.5 334.2L717.0 334.8L717.5 335.4L718.0 336.0L718.5 336.6L719.0 336.8L719.5 336.4L720.0 336.1L720.5 335.8L721.0 335.4L721.5 335.1L722.0 335.1L722.5 335.1L723.0 335.1L723.5 335.1L724.0 335.1L724.5 335.6L725.0 336.3L725.5 337.0L726.0 337.7L726.5 338.1L727.0 337.7L727.5 337.3L728.0 336.8L728.5 336.4L729.0 336.0L729.5 336.7L730.0 337.4L730.5 338.1L731.0 338.8L731.5 339.5L732.0 340.3L732.5 339.5L733.0 338.5L733.5 337.4L734.0 336.4L734.5 335.3L735.0 334.2L735.5 333.6L736.0 333.3L736.5 333.0L737.0 332.7L737.5 332.4L738.0 332.0L738.5 331.7L739.0 332.2L739.5 333.2L740.0 334.2L740.5 335.2L741.0 336.2L741.5 337.2L742.0 337.7L742.5 337.4L743.0 337.1L743.5 336.9L744.0 336.6L744.5 336.3L745.0 336.0L745.5 335.8L746.0 335.6L746.5 335.7L747.0 335.8L747.5 335.8L748.0 335.9L748.5 335.9L749.0 336.2L749.5 337.2L750.0 338.2L750.5 339.2L751.0 340.2L751.5 339.7L752.0 338.8L752.5 337.9L753.0 337.0L753.5 336.1L754.0 335.7L754.5 335.9L755.0 336.1L755.5 336.3L756.0 336.5L756.5 336.7L757.0 336.8L757.5 336.4L758.0 336.0L758.5 335.5L759.0 335.1L759.5 334.7L760.0 335.0L760.5 335.3L761.0 335.6L761.5 335.9L762.0 336.2L762.5 336.5L763.0 336.8L763.5 336.8L764.0 336.7L764.5 336.5L765.0 336.4L765.5 336.3L766.0 336.2L766.5 336.0L767.0 336.1L767.5 336.3L768.0 336.4L768.5 336.6L769.0 336.7L769.5 336.8L770.0 336.8L770.5 336.7L771.0 336.6L771.5 336.5L772.0 336.6L772.5 337.7L773.0 338.8L773.5 339.9L774.0 340.9L774.5 342.0L775.0 343.1L775.5 342.1L776.0 341.1L776.5 340.0L777.0 339.0L777.5 338.0L778.0 337.0L778.5 336.0L779.0 334.9L779.5 333.9L780.0 333.1L780.5 332.8L781.0 332.4L781.5 332.0L782.0 331.6L782.5 331.2L783.0 330.8L783.5 330.4L784.0 330.0L784.5 330.1L785.0 330.7L785.5 331.4L786.0 332.1L786.5 332.8L787.0 333.2L787.5 332.7L788.0 332.2L788.5 331.8L789.0 331.3L789.5 330.8L790.0 331.0L790.5 331.5L791.0 331.9L791.5 332.3L792.0 332.7L792.5 333.1L793.0 332.9L793.5 332.3L794.0 331.8L794.5 331.2L795.0 330.6L795.5 330.3L796.0 330.4L796.5 330.6L797.0 330.7L797.5 330.7L798.0 330.7L798.5 330.7L799.0 330.7L799.5 330.7L800.0 330.7L800 376L606.0 376Z" fill="#ffffff" />
<path d="M606.0 260.2L606.5 260.2L607.0 260.2L607.5 260.2L608.0 260.2L608.5 260.2L609.0 260.2L609.5 260.2L610.0 260.2L610.5 261.4L611.0 262.7L611.5 263.9L612.0 265.1L612.5 266.4L613.0 267.6L613.5 268.8L614.0 270.0L614.5 271.3L615.0 272.5L615.5 273.7L616.0 275.0L616.5 276.2L617.0 277.4L617.5 278.7L618.0 279.9L618.5 281.1L619.0 282.3L619.5 283.6L620.0 284.8L620.5 286.0L621.0 287.3L621.5 288.5L622.0 289.7L622.5 291.0L623.0 292.2L623.5 293.4L624.0 294.7L624.5 295.9L625.0 297.1L625.5 298.3L626.0 299.6L626.5 300.8L627.0 302.0L627.5 303.3L628.0 304.5L628.5 305.7L629.0 307.0L629.5 308.2L630.0 309.4L630.5 310.6L631.0 311.9L631.5 313.1L632.0 314.3L632.5 315.6L633.0 316.8L633.5 318.0L634.0 319.1L634.5 320.3L635.0 321.5L635.5 322.7L636.0 323.8L636.5 325.0L637.0 326.2L637.5 327.3L638.0 328.5L638.5 329.7L639.0 330.9L639.5 332.1L640.0 333.2L640.5 334.4L641.0 335.6L641.5 336.8L642.0 337.9L642.5 339.0L643.0 340.2L643.5 341.3L644.0 342.5L644.5 343.0L645.0 341.3L645.5 339.5L646.0 337.8L646.5 336.1L647.0 334.3L647.5 332.6L648.0 330.8L648.5 330.8L649.0 332.0L649.5 333.1L650.0 334.3L650.5 334.2L651.0 333.8L651.5 333.4L652.0 333.1L652.5 332.7L653.0 332.3L653.5 331.9L654.0 331.6L654.5 331.2L655.0 332.4L655.5 333.7L656.0 334.9L656.5 336.2L657.0 337.4L657.5 338.7L658.0 338.1L658.5 337.1L659.0 336.1L659.5 335.1L660.0 334.1L660.5 333.1L661.0 332.0L661.5 331.0L662.0 330.0L662.5 329.0L663.0 328.0L663.5 327.0L664.0 326.0L664.5 325.4L665.0 326.6L665.5 327.8L666.0 328.9L666.5 330.1L667.0 330.9L667.5 330.4L668.0 329.9L668.5 329.4L669.0 328.9L669.5 329.3L670.0 329.9L670.5 330.5L671.0 331.0L671.5 331.2L672.0 330.8L672.5 330.4L673.0 330.0L673.5 329.6L674.0 329.2L674.5 329.9L675.0 330.6L675.5 331.3L676.0 332.0L676.5 332.0L677.0 331.5L677.5 331.0L678.0 330.5L678.5 330.0L679.0 330.0L679.5 330.6L680.0 331.2L680.5 331.8L681.0 332.5L681.5 333.1L682.0 333.6L682.5 333.4L683.0 333.3L683.5 333.2L684.0 333.1L684.5 332.9L685.0 332.8L685.5 333.4L686.0 333.9L686.5 334.4L687.0 335.0L687.5 335.6L688.0 336.1L688.5 336.6L689.0 337.2L689.5 338.0L690.0 338.8L690.5 339.5L691.0 340.3L691.5 341.1L692.0 341.8L692.5 342.6L693.0 343.4L693.5 342.1L694.0 340.9L694.5 339.6L695.0 338.3L695.5 337.0L696.0 335.8L696.5 334.5L697.0 333.2L697.5 332.0L698.0 331.4L698.5 331.9L699.0 332.5L699.5 333.0L700.0 333.5L700.5 333.2L701.0 332.7L701.5 332.2L702.0 332.1L702.5 332.7L703.0 333.3L703.5 333.8L704.0 334.4L704.5 334.9L705.0 335.3L705.5 334.7L706.0 334.1L706.5 333.4L707.0 333.6L707.5 334.3L708.0 335.0L708.5 335.7L709.0 336.4L709.5 337.1L710.0 337.8L710.5 338.7L711.0 339.6L711.5 340.6L712.0 341.5L712.5 342.4L713.0 342.4L713.5 340.7L714.0 339.1L714.5 337.5L715.0 335.9L715.5 334.2L716.0 333.9L716.5 334.5L717.0 335.1L717.5 335.7L718.0 336.3L718.5 336.9L719.0 337.1L719.5 336.7L720.0 336.4L720.5 336.1L721.0 335.7L721.5 335.4L722.0 335.4L722.5 335.4L723.0 335.4L723.5 335.4L724.0 335.4L724.5 335.9L725.0 336.6L725.5 337.3L726.0 338.0L726.5 338.4L727.0 338.0L727.5 337.6L728.0 337.1L728.5 336.7L729.0 336.3L729.5 337.0L730.0 337.7L730.5 338.4L731.0 339.1L731.5 339.8L732.0 340.6L732.5 339.8L733.0 338.8L733.5 337.7L734.0 336.7L734.5 335.6L735.0 334.5L735.5 333.9L736.0 333.6L736.5 333.3L737.0 333.0L737.5 332.7L738.0 332.3L738.5 332.0L739.0 332.5L739.5 333.5L740.0 334.5L740.5 335.5L741.0 336.5L741.5 337.5L742.0 338.0L742.5 337.7L743.0 337.4L743.5 337.2L744.0 336.9L744.5 336.6L745.0 336.3L745.5 336.1L746.0 335.9L746.5 336.0L747.0 336.1L747.5 336.1L748.0 336.2L748.5 336.2L749.0 336.5L749.5 337.5L750.0 338.5L750.5 339.5L751.0 340.5L751.5 340.0L752.0 339.1L752.5 338.2L753.0 337.3L753.5 336.4L754.0 336.0L754.5 336.2L755.0 336.4L755.5 336.6L756.0 336.8L756.5 337.0L757.0 337.1L757.5 336.7L758.0 336.3L758.5 335.8L759.0 335.4L759.5 335.0L760.0 335.3L760.5 335.6L761.0 335.9L761.5 336.2L762.0 336.5L762.5 336.8L763.0 337.1L763.5 337.1L764.0 337.0L764.5 336.8L765.0 336.7L765.5 336.6L766.0 336.5L766.5 336.3L767.0 336.4L767.5 336.6L768.0 336.7L768.5 336.9L769.0 337.0L769.5 337.1L770.0 337.1L770.5 337.0L771.0 336.9L771.5 336.8L772.0 336.9L772.5 338.0L773.0 339.1L773.5 340.2L774.0 341.2L774.5 342.3L775.0 343.4L775.5 342.4L776.0 341.4L776.5 340.3L777.0 339.3L777.5 338.3L778.0 337.3L778.5 336.3L779.0 335.2L779.5 334.2L780.0 333.4L780.5 333.1L781.0 332.7L781.5 332.3L782.0 331.9L782.5 331.5L783.0 331.1L783.5 330.7L784.0 330.3L784.5 330.4L785.0 331.0L785.5 331.7L786.0 332.4L786.5 333.1L787.0 333.5L787.5 333.0L788.0 332.5L788.5 332.1L789.0 331.6L789.5 331.1L790.0 331.3L790.5 331.8L791.0 332.2L791.5 332.6L792.0 333.0L792.5 333.4L793.0 333.2L793.5 332.6L794.0 332.1L794.5 331.5L795.0 330.9L795.5 330.6L796.0 330.7L796.5 330.9L797.0 331.0L797.5 331.0L798.0 331.0L798.5 331.0L799.0 331.0L799.5 331.0L800.0 331.0L800 376L606.0 376Z" fill="#ad9434" filter="url(#soft)"/>
<path d="M606.0 262.9L606.5 262.9L607.0 262.9L607.5 262.9L608.0 262.9L608.5 262.9L609.0 262.9L609.5 263.2L610.0 264.4L610.5 265.7L611.0 266.9L611.5 268.1L612.0 269.4L612.5 270.6L613.0 271.8L613.5 273.1L614.0 274.3L614.5 275.5L615.0 276.8L615.5 278.0L616.0 279.2L616.5 280.4L617.0 281.7L617.5 282.9L618.0 284.1L618.5 285.4L619.0 286.6L619.5 287.8L620.0 289.1L620.5 290.3L621.0 291.5L621.5 292.7L622.0 294.0L622.5 295.2L623.0 296.4L623.5 297.7L624.0 298.9L624.5 300.1L625.0 301.4L625.5 302.6L626.0 303.8L626.5 305.1L627.0 306.3L627.5 307.5L628.0 308.7L628.5 310.0L629.0 311.2L629.5 312.4L630.0 313.7L630.5 314.9L631.0 316.1L631.5 317.4L632.0 318.5L632.5 319.7L633.0 320.9L633.5 322.0L634.0 323.2L634.5 324.4L635.0 325.6L635.5 326.7L636.0 327.9L636.5 329.1L637.0 330.3L637.5 331.4L638.0 332.6L638.5 333.8L639.0 335.0L639.5 336.2L640.0 337.3L640.5 338.5L641.0 339.6L641.5 340.8L642.0 341.9L642.5 343.0L643.0 343.7L643.5 344.3L644.0 345.2L644.5 345.7L645.0 344.6L645.5 344.3L646.0 343.6L646.5 341.9L647.0 340.1L647.5 338.4L648.0 336.6L648.5 334.9L649.0 335.5L649.5 335.8L650.0 337.0L650.5 336.9L651.0 336.5L651.5 336.1L652.0 335.8L652.5 335.4L653.0 335.0L653.5 334.6L654.0 334.3L654.5 335.5L655.0 336.7L655.5 338.0L656.0 339.2L656.5 339.9L657.0 340.2L657.5 341.4L658.0 340.8L658.5 339.9L659.0 339.3L659.5 338.7L660.0 337.6L660.5 336.6L661.0 335.6L661.5 334.6L662.0 333.6L662.5 332.6L663.0 331.6L663.5 330.6L664.0 329.6L664.5 329.5L665.0 330.6L665.5 331.5L666.0 332.1L666.5 332.8L667.0 333.6L667.5 333.1L668.0 332.6L668.5 332.1L669.0 331.6L669.5 332.0L670.0 332.6L670.5 333.2L671.0 333.7L671.5 333.9L672.0 333.5L672.5 333.1L673.0 332.7L673.5 332.3L674.0 331.9L674.5 332.6L675.0 333.3L675.5 334.0L676.0 334.7L676.5 334.7L677.0 334.2L677.5 333.7L678.0 333.2L678.5 332.7L679.0 332.7L679.5 333.3L680.0 333.9L680.5 334.5L681.0 335.2L681.5 335.8L682.0 336.3L682.5 336.1L683.0 336.0L683.5 335.9L684.0 335.8L684.5 335.6L685.0 335.5L685.5 336.1L686.0 336.6L686.5 337.1L687.0 337.7L687.5 338.2L688.0 338.8L688.5 339.3L689.0 340.1L689.5 340.9L690.0 341.6L690.5 342.4L691.0 343.2L691.5 344.0L692.0 344.6L692.5 345.3L693.0 346.1L693.5 344.9L694.0 344.6L694.5 344.0L695.0 342.7L695.5 341.4L696.0 340.1L696.5 338.9L697.0 337.6L697.5 336.3L698.0 335.1L698.5 334.6L699.0 335.2L699.5 335.7L700.0 336.2L700.5 335.9L701.0 335.4L701.5 334.9L702.0 334.8L702.5 335.4L703.0 336.0L703.5 336.5L704.0 337.1L704.5 337.6L705.0 338.0L705.5 337.4L706.0 336.8L706.5 336.1L707.0 336.3L707.5 337.0L708.0 337.7L708.5 338.4L709.0 339.2L709.5 340.2L710.0 341.1L710.5 342.0L711.0 343.0L711.5 343.7L712.0 344.2L712.5 345.1L713.0 345.1L713.5 343.9L714.0 343.6L714.5 342.9L715.0 341.3L715.5 339.7L716.0 338.0L716.5 337.2L717.0 337.8L717.5 338.4L718.0 339.0L718.5 339.6L719.0 339.8L719.5 339.4L720.0 339.1L720.5 338.8L721.0 338.4L721.5 338.1L722.0 338.1L722.5 338.1L723.0 338.1L723.5 338.1L724.0 338.1L724.5 338.6L725.0 339.3L725.5 340.0L726.0 340.7L726.5 341.1L727.0 340.7L727.5 340.3L728.0 339.8L728.5 339.4L729.0 339.0L729.5 339.7L730.0 340.4L730.5 341.1L731.0 341.8L731.5 342.5L732.0 343.3L732.5 342.5L733.0 341.8L733.5 341.1L734.0 340.4L734.5 339.3L735.0 338.3L735.5 337.2L736.0 336.3L736.5 336.0L737.0 335.7L737.5 335.4L738.0 335.0L738.5 335.1L739.0 336.1L739.5 337.1L740.0 338.1L740.5 338.7L741.0 339.2L741.5 340.2L742.0 340.7L742.5 340.4L743.0 340.1L743.5 339.9L744.0 339.6L744.5 339.3L745.0 339.0L745.5 338.8L746.0 338.6L746.5 338.7L747.0 338.8L747.5 338.8L748.0 338.9L748.5 339.1L749.0 340.1L749.5 341.1L750.0 341.7L750.5 342.2L751.0 343.2L751.5 342.7L752.0 341.8L752.5 341.2L753.0 340.5L753.5 339.7L754.0 338.8L754.5 338.9L755.0 339.1L755.5 339.3L756.0 339.5L756.5 339.7L757.0 339.8L757.5 339.4L758.0 339.0L758.5 338.5L759.0 338.1L759.5 337.7L760.0 338.0L760.5 338.3L761.0 338.6L761.5 338.9L762.0 339.2L762.5 339.5L763.0 339.8L763.5 339.8L764.0 339.7L764.5 339.5L765.0 339.4L765.5 339.3L766.0 339.2L766.5 339.0L767.0 339.1L767.5 339.3L768.0 339.4L768.5 339.6L769.0 339.7L769.5 339.8L770.0 339.8L770.5 339.7L771.0 339.6L771.5 339.6L772.0 340.7L772.5 341.8L773.0 342.9L773.5 344.0L774.0 344.6L774.5 345.0L775.0 346.1L775.5 345.1L776.0 344.6L776.5 344.0L777.0 342.9L777.5 341.9L778.0 340.9L778.5 339.9L779.0 338.9L779.5 337.8L780.0 336.8L780.5 335.8L781.0 335.4L781.5 335.0L782.0 334.6L782.5 334.2L783.0 333.8L783.5 333.4L784.0 333.0L784.5 333.1L785.0 333.7L785.5 334.4L786.0 335.1L786.5 335.8L787.0 336.2L787.5 335.7L788.0 335.2L788.5 334.8L789.0 334.3L789.5 333.8L790.0 334.0L790.5 334.5L791.0 334.9L791.5 335.3L792.0 335.7L792.5 336.1L793.0 335.9L793.5 335.3L794.0 334.8L794.5 334.2L795.0 333.6L795.5 333.3L796.0 333.4L796.5 333.6L797.0 333.7L797.5 333.7L798.0 333.7L798.5 333.7L799.0 333.7L799.5 333.7L800.0 333.7L800 376L606.0 376Z" fill="#430b06" filter="url(#soft)"/>
<path d="M606.0 270.8L606.5 270.8L607.0 270.8L607.5 270.8L608.0 270.8L608.5 270.8L609.0 271.0L609.5 272.2L610.0 273.5L610.5 274.7L611.0 275.9L611.5 277.1L612.0 278.4L612.5 279.6L613.0 280.8L613.5 282.1L614.0 283.3L614.5 284.5L615.0 285.8L615.5 287.0L616.0 288.2L616.5 289.4L617.0 290.7L617.5 291.9L618.0 293.1L618.5 294.4L619.0 295.6L619.5 296.8L620.0 298.1L620.5 299.3L621.0 300.5L621.5 301.8L622.0 303.0L622.5 304.2L623.0 305.4L623.5 306.7L624.0 307.9L624.5 309.1L625.0 310.4L625.5 311.6L626.0 312.8L626.5 314.1L627.0 315.3L627.5 316.5L628.0 317.7L628.5 319.0L629.0 320.2L629.5 321.3L630.0 322.5L630.5 323.7L631.0 324.8L631.5 326.0L632.0 327.2L632.5 328.4L633.0 329.5L633.5 330.7L634.0 331.9L634.5 333.1L635.0 334.2L635.5 335.4L636.0 336.6L636.5 337.8L637.0 338.9L637.5 340.1L638.0 341.2L638.5 342.4L639.0 343.5L639.5 344.7L640.0 345.5L640.5 346.1L641.0 346.6L641.5 347.3L642.0 348.5L642.5 349.6L643.0 350.7L643.5 351.4L644.0 351.6L644.5 351.4L645.0 350.8L645.5 349.8L646.0 348.4L646.5 347.6L647.0 347.4L647.5 347.0L648.0 346.6L648.5 346.0L649.0 345.2L649.5 343.5L650.0 343.7L650.5 344.0L651.0 344.1L651.5 344.0L652.0 343.7L652.5 343.3L653.0 342.9L653.5 342.8L654.0 342.9L654.5 343.2L655.0 343.7L655.5 344.5L656.0 345.5L656.5 346.5L657.0 347.2L657.5 347.5L658.0 347.5L658.5 347.2L659.0 346.6L659.5 345.7L660.0 344.7L660.5 343.7L661.0 342.6L661.5 341.7L662.0 341.1L662.5 340.3L663.0 339.3L663.5 338.3L664.0 337.7L664.5 337.7L665.0 338.0L665.5 338.6L666.0 339.2L666.5 339.8L667.0 340.2L667.5 340.4L668.0 340.4L668.5 340.4L669.0 340.3L669.5 340.4L670.0 340.6L670.5 340.8L671.0 341.0L671.5 341.2L672.0 341.1L672.5 340.9L673.0 340.8L673.5 340.7L674.0 340.8L674.5 341.0L675.0 341.3L675.5 341.5L676.0 341.8L676.5 341.9L677.0 341.8L677.5 341.6L678.0 341.4L678.5 341.3L679.0 341.3L679.5 341.5L680.0 341.9L680.5 342.4L681.0 342.9L681.5 343.3L682.0 343.6L682.5 343.8L683.0 343.8L683.5 343.8L684.0 343.8L684.5 343.8L685.0 344.0L685.5 344.2L686.0 344.6L686.5 345.1L687.0 345.6L687.5 346.2L688.0 346.7L688.5 347.3L689.0 348.0L689.5 348.7L690.0 349.4L690.5 350.1L691.0 350.9L691.5 351.7L692.0 352.2L692.5 352.3L693.0 352.2L693.5 351.9L694.0 351.2L694.5 350.2L695.0 348.9L695.5 347.7L696.0 347.4L696.5 347.0L697.0 346.4L697.5 345.6L698.0 344.3L698.5 343.1L699.0 343.1L699.5 343.2L700.0 343.3L700.5 343.3L701.0 343.4L701.5 343.4L702.0 343.5L702.5 343.6L703.0 343.9L703.5 344.4L704.0 344.7L704.5 344.9L705.0 345.0L705.5 344.9L706.0 344.9L706.5 344.9L707.0 345.0L707.5 345.3L708.0 345.7L708.5 346.3L709.0 347.0L709.5 347.8L710.0 348.6L710.5 349.4L711.0 350.3L711.5 351.0L712.0 351.4L712.5 351.5L713.0 351.2L713.5 350.5L714.0 349.5L714.5 348.3L715.0 347.2L715.5 346.7L716.0 346.4L716.5 345.9L717.0 345.8L717.5 346.2L718.0 346.6L718.5 346.9L719.0 347.0L719.5 347.0L720.0 346.9L720.5 346.7L721.0 346.5L721.5 346.3L722.0 346.1L722.5 346.0L723.0 346.1L723.5 346.3L724.0 346.5L724.5 346.9L725.0 347.3L725.5 347.7L726.0 348.0L726.5 348.2L727.0 348.2L727.5 348.0L728.0 347.9L728.5 347.8L729.0 347.9L729.5 348.1L730.0 348.5L730.5 349.0L731.0 349.5L731.5 349.8L732.0 349.8L732.5 349.5L733.0 349.0L733.5 348.3L734.0 347.3L734.5 346.4L735.0 345.6L735.5 345.0L736.0 344.4L736.5 343.9L737.0 343.6L737.5 343.4L738.0 343.4L738.5 343.5L739.0 343.9L739.5 344.4L740.0 345.2L740.5 346.0L741.0 346.8L741.5 347.3L742.0 347.7L742.5 347.9L743.0 347.9L743.5 347.8L744.0 347.5L744.5 347.2L745.0 347.0L745.5 346.9L746.0 346.8L746.5 346.7L747.0 346.7L747.5 346.7L748.0 347.0L748.5 347.3L749.0 347.8L749.5 348.4L750.0 349.0L750.5 349.4L751.0 349.6L751.5 349.6L752.0 349.3L752.5 348.8L753.0 348.2L753.5 347.7L754.0 347.3L754.5 347.1L755.0 347.1L755.5 347.2L756.0 347.3L756.5 347.3L757.0 347.2L757.5 347.1L758.0 346.8L758.5 346.6L759.0 346.3L759.5 346.2L760.0 346.2L760.5 346.3L761.0 346.5L761.5 346.8L762.0 347.1L762.5 347.3L763.0 347.4L763.5 347.5L764.0 347.5L764.5 347.4L765.0 347.3L765.5 347.2L766.0 347.2L766.5 347.1L767.0 347.2L767.5 347.2L768.0 347.3L768.5 347.4L769.0 347.5L769.5 347.6L770.0 347.6L770.5 347.6L771.0 347.7L771.5 348.0L772.0 348.4L772.5 349.0L773.0 349.8L773.5 350.8L774.0 351.5L774.5 352.0L775.0 352.2L775.5 352.1L776.0 351.7L776.5 350.9L777.0 349.9L777.5 348.9L778.0 347.9L778.5 347.0L779.0 346.4L779.5 345.6L780.0 344.6L780.5 343.9L781.0 343.3L781.5 342.9L782.0 342.5L782.5 342.1L783.0 341.8L783.5 341.6L784.0 341.6L784.5 341.7L785.0 342.0L785.5 342.4L786.0 342.8L786.5 343.1L787.0 343.2L787.5 343.2L788.0 343.0L788.5 342.8L789.0 342.5L789.5 342.4L790.0 342.4L790.5 342.5L791.0 342.8L791.5 343.1L792.0 343.3L792.5 343.3L793.0 343.2L793.5 343.0L794.0 342.6L794.5 342.2L795.0 341.9L795.5 341.7L796.0 341.5L796.5 341.5L797.0 341.5L797.5 341.5L798.0 341.6L798.5 341.6L799.0 341.6L799.5 341.6L800.0 341.6L800 376L606.0 376Z" fill="#8e1f0e" filter="url(#b1)"/>
<path d="M606.0 272.6L606.5 272.6L607.0 272.6L607.5 272.6L608.0 272.6L608.5 273.8L609.0 275.0L609.5 276.2L610.0 277.5L610.5 278.7L611.0 279.9L611.5 281.2L612.0 282.4L612.5 283.6L613.0 284.8L613.5 286.1L614.0 287.3L614.5 288.5L615.0 289.8L615.5 291.0L616.0 292.2L616.5 293.5L617.0 294.7L617.5 295.9L618.0 297.2L618.5 298.4L619.0 299.6L619.5 300.8L620.0 302.1L620.5 303.3L621.0 304.5L621.5 305.8L622.0 307.0L622.5 308.2L623.0 309.5L623.5 310.7L624.0 311.9L624.5 313.1L625.0 314.4L625.5 315.6L626.0 316.8L626.5 318.1L627.0 319.3L627.5 320.5L628.0 321.6L628.5 322.8L629.0 324.0L629.5 325.2L630.0 326.3L630.5 327.5L631.0 328.7L631.5 329.8L632.0 331.0L632.5 332.2L633.0 333.4L633.5 334.6L634.0 335.7L634.5 336.9L635.0 338.1L635.5 339.3L636.0 340.4L636.5 341.5L637.0 342.7L637.5 343.8L638.0 345.0L638.5 345.9L639.0 346.6L639.5 347.2L640.0 347.7L640.5 348.2L641.0 348.5L641.5 349.1L642.0 350.3L642.5 351.4L643.0 352.1L643.5 352.6L644.0 352.7L644.5 352.5L645.0 352.0L645.5 351.1L646.0 349.9L646.5 349.2L647.0 349.0L647.5 348.8L648.0 348.5L648.5 348.2L649.0 347.7L649.5 347.2L650.0 346.5L650.5 345.5L651.0 345.6L651.5 345.6L652.0 345.4L652.5 345.1L653.0 344.9L653.5 344.9L654.0 345.1L654.5 345.4L655.0 345.9L655.5 346.6L656.0 347.3L656.5 347.9L657.0 348.5L657.5 348.8L658.0 348.8L658.5 348.6L659.0 348.1L659.5 347.4L660.0 346.5L660.5 345.5L661.0 344.4L661.5 343.8L662.0 343.3L662.5 342.8L663.0 342.2L663.5 341.6L664.0 340.6L664.5 340.0L665.0 340.3L665.5 340.5L666.0 340.8L666.5 341.2L667.0 341.6L667.5 341.9L668.0 342.1L668.5 342.3L669.0 342.4L669.5 342.5L670.0 342.5L670.5 342.6L671.0 342.6L671.5 342.7L672.0 342.7L672.5 342.7L673.0 342.7L673.5 342.7L674.0 342.8L674.5 343.0L675.0 343.1L675.5 343.2L676.0 343.3L676.5 343.4L677.0 343.4L677.5 343.4L678.0 343.4L678.5 343.4L679.0 343.4L679.5 343.6L680.0 343.9L680.5 344.2L681.0 344.6L681.5 344.9L682.0 345.2L682.5 345.4L683.0 345.5L683.5 345.6L684.0 345.7L684.5 345.8L685.0 346.0L685.5 346.2L686.0 346.5L686.5 346.9L687.0 347.4L687.5 348.0L688.0 348.6L688.5 349.2L689.0 349.9L689.5 350.5L690.0 351.2L690.5 351.9L691.0 352.7L691.5 353.2L692.0 353.6L692.5 353.7L693.0 353.5L693.5 353.2L694.0 352.6L694.5 351.8L695.0 350.7L695.5 349.4L696.0 349.2L696.5 348.9L697.0 348.5L697.5 348.1L698.0 347.6L698.5 346.9L699.0 345.9L699.5 344.9L700.0 344.9L700.5 345.0L701.0 345.2L701.5 345.3L702.0 345.5L702.5 345.7L703.0 345.9L703.5 346.1L704.0 346.3L704.5 346.5L705.0 346.6L705.5 346.7L706.0 346.8L706.5 347.0L707.0 347.1L707.5 347.3L708.0 347.7L708.5 348.2L709.0 348.9L709.5 349.6L710.0 350.4L710.5 351.3L711.0 352.0L711.5 352.5L712.0 352.7L712.5 352.7L713.0 352.4L713.5 351.8L714.0 351.0L714.5 350.3L715.0 349.4L715.5 348.7L716.0 348.2L716.5 348.0L717.0 347.9L717.5 348.0L718.0 348.2L718.5 348.5L719.0 348.6L719.5 348.6L720.0 348.6L720.5 348.5L721.0 348.4L721.5 348.2L722.0 348.0L722.5 348.0L723.0 348.0L723.5 348.2L724.0 348.5L724.5 348.8L725.0 349.1L725.5 349.4L726.0 349.5L726.5 349.7L727.0 349.7L727.5 349.8L728.0 349.8L728.5 349.9L729.0 350.0L729.5 350.2L730.0 350.5L730.5 350.8L731.0 351.0L731.5 351.2L732.0 351.1L732.5 350.9L733.0 350.5L733.5 349.9L734.0 349.2L734.5 348.4L735.0 347.6L735.5 346.9L736.0 346.3L736.5 345.8L737.0 345.5L737.5 345.4L738.0 345.4L738.5 345.7L739.0 346.0L739.5 346.5L740.0 347.1L740.5 347.7L741.0 348.3L741.5 348.8L742.0 349.2L742.5 349.4L743.0 349.5L743.5 349.5L744.0 349.3L744.5 349.1L745.0 348.9L745.5 348.8L746.0 348.6L746.5 348.6L747.0 348.6L747.5 348.7L748.0 349.0L748.5 349.4L749.0 349.9L749.5 350.3L750.0 350.6L750.5 350.8L751.0 351.0L751.5 351.0L752.0 350.8L752.5 350.5L753.0 350.2L753.5 349.8L754.0 349.4L754.5 349.2L755.0 349.1L755.5 349.0L756.0 349.0L756.5 349.0L757.0 348.9L757.5 348.7L758.0 348.6L758.5 348.4L759.0 348.3L759.5 348.2L760.0 348.2L760.5 348.3L761.0 348.4L761.5 348.6L762.0 348.8L762.5 349.0L763.0 349.1L763.5 349.2L764.0 349.2L764.5 349.2L765.0 349.1L765.5 349.1L766.0 349.0L766.5 349.0L767.0 349.0L767.5 349.1L768.0 349.1L768.5 349.2L769.0 349.3L769.5 349.3L770.0 349.3L770.5 349.5L771.0 349.7L771.5 350.1L772.0 350.5L772.5 351.1L773.0 351.8L773.5 352.4L774.0 352.9L774.5 353.3L775.0 353.5L775.5 353.4L776.0 353.1L776.5 352.5L777.0 351.7L777.5 350.7L778.0 349.7L778.5 348.9L779.0 348.5L779.5 348.1L780.0 347.6L780.5 346.9L781.0 345.9L781.5 344.9L782.0 344.3L782.5 343.9L783.0 343.7L783.5 343.6L784.0 343.6L784.5 343.8L785.0 344.0L785.5 344.2L786.0 344.4L786.5 344.6L787.0 344.7L787.5 344.7L788.0 344.7L788.5 344.6L789.0 344.5L789.5 344.4L790.0 344.4L790.5 344.5L791.0 344.6L791.5 344.8L792.0 344.9L792.5 344.9L793.0 344.8L793.5 344.6L794.0 344.4L794.5 344.2L795.0 343.9L795.5 343.6L796.0 343.5L796.5 343.3L797.0 343.3L797.5 343.3L798.0 343.4L798.5 343.4L799.0 343.4L799.5 343.4L800.0 343.4L800 376L606.0 376Z" fill="#d9481a" filter="url(#b1)"/>
<path d="M606.0 275.2L606.5 275.2L607.0 275.7L607.5 276.9L608.0 278.1L608.5 279.4L609.0 280.6L609.5 281.8L610.0 283.0L610.5 284.3L611.0 285.5L611.5 286.7L612.0 288.0L612.5 289.2L613.0 290.4L613.5 291.7L614.0 292.9L614.5 294.1L615.0 295.3L615.5 296.6L616.0 297.8L616.5 299.0L617.0 300.3L617.5 301.5L618.0 302.7L618.5 304.0L619.0 305.2L619.5 306.4L620.0 307.7L620.5 308.9L621.0 310.1L621.5 311.3L622.0 312.6L622.5 313.8L623.0 315.0L623.5 316.3L624.0 317.5L624.5 318.7L625.0 320.0L625.5 321.1L626.0 322.3L626.5 323.5L627.0 324.6L627.5 325.8L628.0 327.0L628.5 328.2L629.0 329.3L629.5 330.5L630.0 331.7L630.5 332.9L631.0 334.0L631.5 335.2L632.0 336.4L632.5 337.6L633.0 338.7L633.5 339.9L634.0 341.1L634.5 342.2L635.0 343.3L635.5 344.5L636.0 345.6L636.5 346.7L637.0 347.5L637.5 348.1L638.0 348.7L638.5 349.2L639.0 349.7L639.5 350.0L640.0 350.4L640.5 350.7L641.0 350.9L641.5 351.7L642.0 352.8L642.5 353.7L643.0 354.2L643.5 354.5L644.0 354.6L644.5 354.4L645.0 353.9L645.5 353.1L646.0 352.3L646.5 351.4L647.0 351.3L647.5 351.1L648.0 350.9L648.5 350.7L649.0 350.4L649.5 350.0L650.0 349.7L650.5 349.2L651.0 348.7L651.5 348.0L652.0 347.9L652.5 347.8L653.0 347.8L653.5 347.8L654.0 348.0L654.5 348.4L655.0 348.9L655.5 349.4L656.0 349.8L656.5 350.2L657.0 350.5L657.5 350.8L658.0 350.8L658.5 350.7L659.0 350.3L659.5 349.8L660.0 349.0L660.5 348.1L661.0 347.1L661.5 346.3L662.0 346.0L662.5 345.6L663.0 345.3L663.5 344.8L664.0 344.3L664.5 343.7L665.0 343.2L665.5 343.3L666.0 343.4L666.5 343.6L667.0 343.9L667.5 344.3L668.0 344.6L668.5 344.9L669.0 345.1L669.5 345.2L670.0 345.2L670.5 345.1L671.0 345.1L671.5 345.1L672.0 345.2L672.5 345.3L673.0 345.4L673.5 345.6L674.0 345.7L674.5 345.7L675.0 345.7L675.5 345.7L676.0 345.7L676.5 345.7L677.0 345.9L677.5 346.0L678.0 346.1L678.5 346.2L679.0 346.3L679.5 346.4L680.0 346.6L680.5 346.8L681.0 347.1L681.5 347.3L682.0 347.6L682.5 347.8L683.0 348.0L683.5 348.2L684.0 348.4L684.5 348.5L685.0 348.7L685.5 349.0L686.0 349.3L686.5 349.6L687.0 350.1L687.5 350.6L688.0 351.2L688.5 351.9L689.0 352.5L689.5 353.2L690.0 353.9L690.5 354.6L691.0 355.1L691.5 355.5L692.0 355.7L692.5 355.8L693.0 355.6L693.5 355.3L694.0 354.7L694.5 354.0L695.0 353.1L695.5 352.1L696.0 351.5L696.5 351.3L697.0 351.0L697.5 350.7L698.0 350.4L698.5 350.0L699.0 349.6L699.5 349.0L700.0 348.4L700.5 347.6L701.0 347.8L701.5 348.0L702.0 348.3L702.5 348.5L703.0 348.6L703.5 348.6L704.0 348.7L704.5 348.8L705.0 349.0L705.5 349.3L706.0 349.5L706.5 349.7L707.0 350.0L707.5 350.2L708.0 350.5L708.5 351.0L709.0 351.6L709.5 352.3L710.0 353.1L710.5 353.8L711.0 354.4L711.5 354.7L712.0 354.8L712.5 354.6L713.0 354.3L713.5 353.9L714.0 353.4L714.5 352.9L715.0 352.4L715.5 351.8L716.0 351.3L716.5 351.0L717.0 350.8L717.5 350.7L718.0 350.7L718.5 350.9L719.0 351.0L719.5 351.1L720.0 351.1L720.5 351.1L721.0 351.0L721.5 350.9L722.0 350.8L722.5 350.7L723.0 350.8L723.5 351.0L724.0 351.2L724.5 351.5L725.0 351.7L725.5 351.8L726.0 351.9L726.5 352.0L727.0 352.2L727.5 352.3L728.0 352.5L728.5 352.7L729.0 352.8L729.5 353.0L730.0 353.2L730.5 353.3L731.0 353.4L731.5 353.4L732.0 353.3L732.5 353.1L733.0 352.7L733.5 352.3L734.0 351.8L734.5 351.1L735.0 350.4L735.5 349.7L736.0 349.1L736.5 348.6L737.0 348.4L737.5 348.3L738.0 348.3L738.5 348.6L739.0 348.9L739.5 349.4L740.0 349.8L740.5 350.2L741.0 350.7L741.5 351.1L742.0 351.5L742.5 351.7L743.0 351.9L743.5 351.9L744.0 351.9L744.5 351.7L745.0 351.6L745.5 351.4L746.0 351.3L746.5 351.3L747.0 351.3L747.5 351.5L748.0 351.8L748.5 352.2L749.0 352.6L749.5 352.8L750.0 353.0L750.5 353.1L751.0 353.2L751.5 353.1L752.0 353.1L752.5 353.0L753.0 352.8L753.5 352.6L754.0 352.3L754.5 352.0L755.0 351.8L755.5 351.6L756.0 351.5L756.5 351.4L757.0 351.3L757.5 351.2L758.0 351.2L758.5 351.1L759.0 351.0L759.5 351.0L760.0 351.0L760.5 351.0L761.0 351.1L761.5 351.2L762.0 351.3L762.5 351.5L763.0 351.6L763.5 351.7L764.0 351.7L764.5 351.7L765.0 351.7L765.5 351.7L766.0 351.7L766.5 351.7L767.0 351.7L767.5 351.7L768.0 351.7L768.5 351.8L769.0 351.8L769.5 351.9L770.0 352.0L770.5 352.2L771.0 352.5L771.5 352.9L772.0 353.4L772.5 354.0L773.0 354.5L773.5 354.9L774.0 355.2L774.5 355.4L775.0 355.5L775.5 355.5L776.0 355.2L776.5 354.8L777.0 354.1L777.5 353.3L778.0 352.4L778.5 351.5L779.0 351.0L779.5 350.7L780.0 350.4L780.5 350.0L781.0 349.6L781.5 349.0L782.0 348.4L782.5 347.6L783.0 346.6L783.5 346.5L784.0 346.5L784.5 346.6L785.0 346.7L785.5 346.8L786.0 346.9L786.5 347.0L787.0 347.0L787.5 347.1L788.0 347.2L788.5 347.2L789.0 347.2L789.5 347.2L790.0 347.2L790.5 347.3L791.0 347.3L791.5 347.3L792.0 347.3L792.5 347.2L793.0 347.2L793.5 347.1L794.0 346.9L794.5 346.8L795.0 346.6L795.5 346.4L796.0 346.2L796.5 346.0L797.0 345.9L797.5 345.9L798.0 345.9L798.5 346.0L799.0 346.0L799.5 346.0L800.0 346.0L800 376L606.0 376Z" fill="#f5921f" filter="url(#b1)"/>
<path d="M606.0 278.2L606.5 279.4L607.0 280.7L607.5 281.9L608.0 283.1L608.5 284.4L609.0 285.6L609.5 286.8L610.0 288.1L610.5 289.3L611.0 290.5L611.5 291.7L612.0 293.0L612.5 294.2L613.0 295.4L613.5 296.7L614.0 297.9L614.5 299.1L615.0 300.4L615.5 301.6L616.0 302.8L616.5 304.0L617.0 305.3L617.5 306.5L618.0 307.7L618.5 309.0L619.0 310.2L619.5 311.4L620.0 312.7L620.5 313.9L621.0 315.1L621.5 316.4L622.0 317.6L622.5 318.8L623.0 320.0L623.5 321.3L624.0 322.4L624.5 323.6L625.0 324.8L625.5 326.0L626.0 327.1L626.5 328.3L627.0 329.5L627.5 330.6L628.0 331.8L628.5 333.0L629.0 334.2L629.5 335.4L630.0 336.5L630.5 337.7L631.0 338.9L631.5 340.1L632.0 341.2L632.5 342.4L633.0 343.5L633.5 344.7L634.0 345.8L634.5 347.0L635.0 347.9L635.5 348.6L636.0 349.3L636.5 349.9L637.0 350.4L637.5 350.9L638.0 351.3L638.5 351.7L639.0 352.0L639.5 352.3L640.0 352.5L640.5 352.8L641.0 352.9L641.5 354.1L642.0 355.0L642.5 355.6L643.0 356.1L643.5 356.3L644.0 356.3L644.5 356.0L645.0 355.6L645.5 355.0L646.0 354.5L646.5 353.9L647.0 353.4L647.5 353.1L648.0 352.9L648.5 352.8L649.0 352.5L649.5 352.3L650.0 352.0L650.5 351.7L651.0 351.3L651.5 350.9L652.0 350.4L652.5 350.3L653.0 350.4L653.5 350.6L654.0 350.8L654.5 351.2L655.0 351.6L655.5 351.9L656.0 352.1L656.5 352.3L657.0 352.5L657.5 352.6L658.0 352.7L658.5 352.6L659.0 352.3L659.5 351.8L660.0 351.2L660.5 350.4L661.0 349.4L661.5 348.5L662.0 348.1L662.5 347.9L663.0 347.6L663.5 347.3L664.0 346.9L664.5 346.5L665.0 346.0L665.5 345.8L666.0 345.8L666.5 345.9L667.0 346.1L667.5 346.5L668.0 346.9L668.5 347.3L669.0 347.5L669.5 347.6L670.0 347.6L670.5 347.5L671.0 347.4L671.5 347.4L672.0 347.5L672.5 347.7L673.0 347.9L673.5 348.1L674.0 348.1L674.5 348.1L675.0 348.1L675.5 348.0L676.0 348.0L676.5 348.0L677.0 348.2L677.5 348.4L678.0 348.6L678.5 348.7L679.0 348.9L679.5 349.0L680.0 349.1L680.5 349.3L681.0 349.4L681.5 349.6L682.0 349.8L682.5 350.1L683.0 350.3L683.5 350.6L684.0 350.8L684.5 351.1L685.0 351.3L685.5 351.5L686.0 351.8L686.5 352.2L687.0 352.6L687.5 353.1L688.0 353.7L688.5 354.3L689.0 355.0L689.5 355.6L690.0 356.3L690.5 356.9L691.0 357.3L691.5 357.5L692.0 357.7L692.5 357.7L693.0 357.5L693.5 357.2L694.0 356.7L694.5 356.0L695.0 355.3L695.5 354.5L696.0 353.8L696.5 353.3L697.0 353.1L697.5 352.9L698.0 352.6L698.5 352.3L699.0 352.0L699.5 351.6L700.0 351.2L700.5 350.7L701.0 350.2L701.5 350.5L702.0 350.7L702.5 350.9L703.0 351.0L703.5 351.0L704.0 351.0L704.5 351.2L705.0 351.4L705.5 351.6L706.0 351.9L706.5 352.2L707.0 352.5L707.5 352.9L708.0 353.2L708.5 353.6L709.0 354.2L709.5 354.8L710.0 355.5L710.5 356.0L711.0 356.4L711.5 356.6L712.0 356.6L712.5 356.4L713.0 356.2L713.5 355.9L714.0 355.7L714.5 355.4L715.0 355.0L715.5 354.7L716.0 354.3L716.5 353.8L717.0 353.5L717.5 353.3L718.0 353.1L718.5 353.1L719.0 353.2L719.5 353.3L720.0 353.4L720.5 353.4L721.0 353.4L721.5 353.3L722.0 353.3L722.5 353.3L723.0 353.4L723.5 353.6L724.0 353.7L724.5 353.9L725.0 354.0L725.5 354.1L726.0 354.2L726.5 354.3L727.0 354.5L727.5 354.7L728.0 355.0L728.5 355.2L729.0 355.5L729.5 355.6L730.0 355.6L730.5 355.6L731.0 355.5L731.5 355.4L732.0 355.3L732.5 355.1L733.0 354.8L733.5 354.5L734.0 354.0L734.5 353.5L735.0 353.0L735.5 352.3L736.0 351.8L736.5 351.3L737.0 351.1L737.5 351.0L738.0 351.1L738.5 351.3L739.0 351.6L739.5 351.9L740.0 352.3L740.5 352.6L741.0 352.9L741.5 353.2L742.0 353.6L742.5 353.8L743.0 354.0L743.5 354.1L744.0 354.2L744.5 354.2L745.0 354.1L745.5 353.9L746.0 353.8L746.5 353.8L747.0 353.9L747.5 354.1L748.0 354.4L748.5 354.7L749.0 354.9L749.5 355.1L750.0 355.2L750.5 355.3L751.0 355.2L751.5 355.2L752.0 355.3L752.5 355.3L753.0 355.2L753.5 355.1L754.0 354.9L754.5 354.6L755.0 354.3L755.5 354.1L756.0 353.9L756.5 353.7L757.0 353.6L757.5 353.6L758.0 353.6L758.5 353.5L759.0 353.5L759.5 353.5L760.0 353.5L760.5 353.5L761.0 353.6L761.5 353.6L762.0 353.7L762.5 353.8L763.0 353.9L763.5 354.0L764.0 354.0L764.5 354.1L765.0 354.1L765.5 354.1L766.0 354.1L766.5 354.1L767.0 354.1L767.5 354.1L768.0 354.2L768.5 354.2L769.0 354.2L769.5 354.3L770.0 354.5L770.5 354.8L771.0 355.2L771.5 355.6L772.0 356.1L772.5 356.5L773.0 356.8L773.5 357.1L774.0 357.3L774.5 357.4L775.0 357.4L775.5 357.4L776.0 357.1L776.5 356.8L777.0 356.3L777.5 355.6L778.0 354.9L778.5 354.0L779.0 353.2L779.5 352.9L780.0 352.6L780.5 352.3L781.0 352.0L781.5 351.6L782.0 351.2L782.5 350.7L783.0 350.2L783.5 349.6L784.0 349.1L784.5 349.2L785.0 349.2L785.5 349.2L786.0 349.2L786.5 349.2L787.0 349.2L787.5 349.4L788.0 349.5L788.5 349.6L789.0 349.7L789.5 349.8L790.0 349.8L790.5 349.7L791.0 349.7L791.5 349.6L792.0 349.5L792.5 349.4L793.0 349.4L793.5 349.3L794.0 349.3L794.5 349.2L795.0 349.1L795.5 348.9L796.0 348.7L796.5 348.6L797.0 348.4L797.5 348.4L798.0 348.3L798.5 348.3L799.0 348.4L799.5 348.4L800.0 348.4L800 376L606.0 376Z" fill="#fde62c" filter="url(#b1)"/>
<path d="M606.0 352.5L606.5 352.5L607.0 352.5L607.5 352.5L608.0 352.5L608.5 352.5L609.0 352.5L609.5 352.5L610.0 352.5L610.5 352.5L611.0 352.5L611.5 352.5L612.0 352.5L612.5 352.5L613.0 352.5L613.5 352.5L614.0 352.5L614.5 352.5L615.0 352.5L615.5 352.5L616.0 352.5L616.5 352.5L617.0 352.5L617.5 352.5L618.0 352.5L618.5 352.5L619.0 352.5L619.5 352.5L620.0 352.5L620.5 352.5L621.0 352.5L621.5 352.5L622.0 352.5L622.5 352.5L623.0 352.5L623.5 352.5L624.0 352.5L624.5 352.5L625.0 352.5L625.5 352.5L626.0 352.5L626.5 352.5L627.0 352.5L627.5 352.5L628.0 352.5L628.5 352.5L629.0 352.5L629.5 352.5L630.0 352.5L630.5 352.5L631.0 352.5L631.5 352.5L632.0 352.5L632.5 352.5L633.0 352.5L633.5 352.5L634.0 352.5L634.5 352.5L635.0 352.5L635.5 352.5L636.0 352.5L636.5 352.5L637.0 352.5L637.5 352.5L638.0 353.5L638.5 354.4L639.0 355.3L639.5 356.3L640.0 357.2L640.5 358.1L641.0 359.0L641.5 359.9L642.0 360.8L642.5 360.7L643.0 360.7L643.5 360.6L644.0 360.6L644.5 360.5L645.0 360.5L645.5 360.4L646.0 360.4L646.5 360.3L647.0 360.3L647.5 360.2L648.0 360.2L648.5 360.1L649.0 360.0L649.5 360.0L650.0 359.9L650.5 359.8L651.0 359.7L651.5 359.6L652.0 359.5L652.5 359.3L653.0 359.2L653.5 359.1L654.0 359.0L654.5 358.8L655.0 358.7L655.5 358.6L656.0 358.4L656.5 358.3L657.0 358.2L657.5 358.0L658.0 357.9L658.5 357.8L659.0 357.7L659.5 357.6L660.0 357.5L660.5 357.4L661.0 357.3L661.5 357.3L662.0 357.2L662.5 357.1L663.0 357.0L663.5 357.0L664.0 356.9L664.5 356.8L665.0 356.7L665.5 356.6L666.0 356.5L666.5 356.5L667.0 356.4L667.5 356.3L668.0 356.3L668.5 356.2L669.0 356.2L669.5 356.2L670.0 356.1L670.5 356.1L671.0 356.1L671.5 356.1L672.0 356.2L672.5 356.2L673.0 356.2L673.5 356.3L674.0 356.4L674.5 356.5L675.0 356.6L675.5 356.7L676.0 356.8L676.5 357.0L677.0 357.2L677.5 357.3L678.0 357.5L678.5 357.7L679.0 357.9L679.5 358.1L680.0 358.3L680.5 358.5L681.0 358.7L681.5 358.9L682.0 359.1L682.5 359.3L683.0 359.5L683.5 359.7L684.0 359.8L684.5 360.0L685.0 360.2L685.5 360.3L686.0 360.5L686.5 360.6L687.0 360.7L687.5 360.8L688.0 360.9L688.5 361.0L689.0 361.1L689.5 361.1L690.0 361.2L690.5 361.2L691.0 361.3L691.5 361.3L692.0 361.3L692.5 361.3L693.0 361.4L693.5 361.4L694.0 361.4L694.5 361.4L695.0 361.4L695.5 361.4L696.0 361.4L696.5 361.4L697.0 361.4L697.5 361.4L698.0 361.4L698.5 361.4L699.0 361.4L699.5 361.4L700.0 361.4L700.5 361.4L701.0 361.4L701.5 361.4L702.0 361.4L702.5 361.3L703.0 361.3L703.5 361.3L704.0 361.3L704.5 361.3L705.0 361.3L705.5 361.3L706.0 361.3L706.5 361.4L707.0 361.4L707.5 361.4L708.0 361.4L708.5 361.4L709.0 361.5L709.5 361.5L710.0 361.6L710.5 361.6L711.0 361.7L711.5 361.7L712.0 361.8L712.5 361.9L713.0 361.9L713.5 362.0L714.0 362.1L714.5 362.1L715.0 362.2L715.5 362.3L716.0 362.3L716.5 362.4L717.0 362.4L717.5 362.5L718.0 362.5L718.5 362.5L719.0 362.5L719.5 362.6L720.0 362.6L720.5 362.6L721.0 362.6L721.5 362.6L722.0 362.5L722.5 362.5L723.0 362.5L723.5 362.5L724.0 362.4L724.5 362.4L725.0 362.3L725.5 362.3L726.0 362.2L726.5 362.2L727.0 362.2L727.5 362.1L728.0 362.1L728.5 362.0L729.0 362.0L729.5 362.0L730.0 362.0L730.5 361.9L731.0 361.9L731.5 361.9L732.0 361.9L732.5 361.9L733.0 361.9L733.5 361.9L734.0 361.9L734.5 361.9L735.0 361.9L735.5 361.9L736.0 361.9L736.5 361.9L737.0 361.9L737.5 361.9L738.0 361.9L738.5 361.9L739.0 361.9L739.5 361.8L740.0 361.8L740.5 361.8L741.0 361.8L741.5 361.8L742.0 361.8L742.5 361.8L743.0 361.9L743.5 361.9L744.0 361.9L744.5 361.9L745.0 362.0L745.5 362.0L746.0 362.0L746.5 362.0L747.0 362.1L747.5 362.1L748.0 362.1L748.5 362.2L749.0 362.2L749.5 362.2L750.0 362.3L750.5 362.3L751.0 362.3L751.5 362.3L752.0 362.4L752.5 362.4L753.0 362.4L753.5 362.4L754.0 362.4L754.5 362.4L755.0 362.4L755.5 362.4L756.0 362.4L756.5 362.4L757.0 362.4L757.5 362.4L758.0 362.4L758.5 362.4L759.0 362.4L759.5 362.4L760.0 362.5L760.5 362.5L761.0 362.5L761.5 362.5L762.0 362.6L762.5 362.6L763.0 362.6L763.5 362.7L764.0 362.7L764.5 362.7L765.0 362.7L765.5 362.8L766.0 362.8L766.5 362.8L767.0 362.8L767.5 362.8L768.0 362.9L768.5 362.9L769.0 362.8L769.5 362.8L770.0 362.8L770.5 362.7L771.0 362.7L771.5 362.6L772.0 362.6L772.5 362.5L773.0 362.4L773.5 362.3L774.0 362.2L774.5 362.1L775.0 362.0L775.5 361.9L776.0 361.8L776.5 361.7L777.0 361.5L777.5 361.4L778.0 361.3L778.5 361.2L779.0 361.0L779.5 360.9L780.0 360.8L780.5 360.6L781.0 360.5L781.5 360.3L782.0 360.2L782.5 360.0L783.0 359.9L783.5 359.7L784.0 359.5L784.5 359.3L785.0 359.2L785.5 359.0L786.0 358.8L786.5 358.7L787.0 358.5L787.5 358.4L788.0 358.2L788.5 358.1L789.0 358.0L789.5 357.9L790.0 357.7L790.5 357.6L791.0 357.6L791.5 357.5L792.0 357.4L792.5 357.3L793.0 357.3L793.5 357.2L794.0 357.2L794.5 357.2L795.0 357.1L795.5 357.1L796.0 357.1L796.5 357.1L797.0 357.1L797.5 357.0L798.0 357.0L798.5 357.0L799.0 357.0L799.5 357.0L800.0 357.0L800 376L606.0 376Z" fill="#d2f760" filter="url(#b2)"/>
<path d="M606.0 354.7L606.5 354.7L607.0 354.7L607.5 354.7L608.0 354.7L608.5 354.7L609.0 354.7L609.5 354.7L610.0 354.7L610.5 354.7L611.0 354.7L611.5 354.7L612.0 354.7L612.5 354.7L613.0 354.7L613.5 354.7L614.0 354.7L614.5 354.7L615.0 354.7L615.5 354.7L616.0 354.7L616.5 354.7L617.0 354.7L617.5 354.7L618.0 354.7L618.5 354.7L619.0 354.7L619.5 354.7L620.0 354.7L620.5 354.7L621.0 354.7L621.5 354.7L622.0 354.7L622.5 354.7L623.0 354.7L623.5 354.7L624.0 354.7L624.5 354.7L625.0 354.7L625.5 354.7L626.0 354.7L626.5 354.7L627.0 354.7L627.5 354.7L628.0 354.7L628.5 354.7L629.0 354.7L629.5 354.7L630.0 354.7L630.5 354.7L631.0 354.7L631.5 354.7L632.0 354.7L632.5 354.7L633.0 354.7L633.5 354.7L634.0 354.7L634.5 354.7L635.0 354.7L635.5 354.7L636.0 354.7L636.5 354.7L637.0 354.7L637.5 354.7L638.0 355.7L638.5 356.6L639.0 357.5L639.5 358.5L640.0 359.4L640.5 360.3L641.0 361.2L641.5 362.1L642.0 363.0L642.5 362.9L643.0 362.9L643.5 362.8L644.0 362.8L644.5 362.7L645.0 362.7L645.5 362.6L646.0 362.6L646.5 362.5L647.0 362.5L647.5 362.4L648.0 362.4L648.5 362.3L649.0 362.2L649.5 362.2L650.0 362.1L650.5 362.0L651.0 361.9L651.5 361.8L652.0 361.7L652.5 361.5L653.0 361.4L653.5 361.3L654.0 361.2L654.5 361.0L655.0 360.9L655.5 360.8L656.0 360.6L656.5 360.5L657.0 360.4L657.5 360.2L658.0 360.1L658.5 360.0L659.0 359.9L659.5 359.8L660.0 359.7L660.5 359.6L661.0 359.5L661.5 359.5L662.0 359.4L662.5 359.3L663.0 359.2L663.5 359.2L664.0 359.1L664.5 359.0L665.0 358.9L665.5 358.8L666.0 358.7L666.5 358.7L667.0 358.6L667.5 358.5L668.0 358.5L668.5 358.4L669.0 358.4L669.5 358.4L670.0 358.3L670.5 358.3L671.0 358.3L671.5 358.3L672.0 358.4L672.5 358.4L673.0 358.4L673.5 358.5L674.0 358.6L674.5 358.7L675.0 358.8L675.5 358.9L676.0 359.0L676.5 359.2L677.0 359.4L677.5 359.5L678.0 359.7L678.5 359.9L679.0 360.1L679.5 360.3L680.0 360.5L680.5 360.7L681.0 360.9L681.5 361.1L682.0 361.3L682.5 361.5L683.0 361.7L683.5 361.9L684.0 362.0L684.5 362.2L685.0 362.4L685.5 362.5L686.0 362.7L686.5 362.8L687.0 362.9L687.5 363.0L688.0 363.1L688.5 363.2L689.0 363.3L689.5 363.3L690.0 363.4L690.5 363.4L691.0 363.5L691.5 363.5L692.0 363.5L692.5 363.5L693.0 363.6L693.5 363.6L694.0 363.6L694.5 363.6L695.0 363.6L695.5 363.6L696.0 363.6L696.5 363.6L697.0 363.6L697.5 363.6L698.0 363.6L698.5 363.6L699.0 363.6L699.5 363.6L700.0 363.6L700.5 363.6L701.0 363.6L701.5 363.6L702.0 363.6L702.5 363.5L703.0 363.5L703.5 363.5L704.0 363.5L704.5 363.5L705.0 363.5L705.5 363.5L706.0 363.5L706.5 363.6L707.0 363.6L707.5 363.6L708.0 363.6L708.5 363.6L709.0 363.7L709.5 363.7L710.0 363.8L710.5 363.8L711.0 363.9L711.5 363.9L712.0 364.0L712.5 364.1L713.0 364.1L713.5 364.2L714.0 364.3L714.5 364.3L715.0 364.4L715.5 364.5L716.0 364.5L716.5 364.6L717.0 364.6L717.5 364.7L718.0 364.7L718.5 364.7L719.0 364.7L719.5 364.8L720.0 364.8L720.5 364.8L721.0 364.8L721.5 364.8L722.0 364.7L722.5 364.7L723.0 364.7L723.5 364.7L724.0 364.6L724.5 364.6L725.0 364.5L725.5 364.5L726.0 364.4L726.5 364.4L727.0 364.4L727.5 364.3L728.0 364.3L728.5 364.2L729.0 364.2L729.5 364.2L730.0 364.2L730.5 364.1L731.0 364.1L731.5 364.1L732.0 364.1L732.5 364.1L733.0 364.1L733.5 364.1L734.0 364.1L734.5 364.1L735.0 364.1L735.5 364.1L736.0 364.1L736.5 364.1L737.0 364.1L737.5 364.1L738.0 364.1L738.5 364.1L739.0 364.1L739.5 364.0L740.0 364.0L740.5 364.0L741.0 364.0L741.5 364.0L742.0 364.0L742.5 364.0L743.0 364.1L743.5 364.1L744.0 364.1L744.5 364.1L745.0 364.2L745.5 364.2L746.0 364.2L746.5 364.2L747.0 364.3L747.5 364.3L748.0 364.3L748.5 364.4L749.0 364.4L749.5 364.4L750.0 364.5L750.5 364.5L751.0 364.5L751.5 364.5L752.0 364.6L752.5 364.6L753.0 364.6L753.5 364.6L754.0 364.6L754.5 364.6L755.0 364.6L755.5 364.6L756.0 364.6L756.5 364.6L757.0 364.6L757.5 364.6L758.0 364.6L758.5 364.6L759.0 364.6L759.5 364.6L760.0 364.7L760.5 364.7L761.0 364.7L761.5 364.7L762.0 364.8L762.5 364.8L763.0 364.8L763.5 364.9L764.0 364.9L764.5 364.9L765.0 364.9L765.5 365.0L766.0 365.0L766.5 365.0L767.0 365.0L767.5 365.0L768.0 365.1L768.5 365.1L769.0 365.0L769.5 365.0L770.0 365.0L770.5 364.9L771.0 364.9L771.5 364.8L772.0 364.8L772.5 364.7L773.0 364.6L773.5 364.5L774.0 364.4L774.5 364.3L775.0 364.2L775.5 364.1L776.0 364.0L776.5 363.9L777.0 363.7L777.5 363.6L778.0 363.5L778.5 363.4L779.0 363.2L779.5 363.1L780.0 363.0L780.5 362.8L781.0 362.7L781.5 362.5L782.0 362.4L782.5 362.2L783.0 362.1L783.5 361.9L784.0 361.7L784.5 361.5L785.0 361.4L785.5 361.2L786.0 361.0L786.5 360.9L787.0 360.7L787.5 360.6L788.0 360.4L788.5 360.3L789.0 360.2L789.5 360.1L790.0 359.9L790.5 359.8L791.0 359.8L791.5 359.7L792.0 359.6L792.5 359.5L793.0 359.5L793.5 359.4L794.0 359.4L794.5 359.4L795.0 359.3L795.5 359.3L796.0 359.3L796.5 359.3L797.0 359.3L797.5 359.2L798.0 359.2L798.5 359.2L799.0 359.2L799.5 359.2L800.0 359.2L800 376L606.0 376Z" fill="#87fdb1" filter="url(#b2)"/>
<rect x="606" y="373" width="194" height="4" fill="#87fdb1"/>
</g>
<path d="M633.0 316.8L636.8 325.7L641.3 336.3L644.4 343.4L648.2 330.1L650.1 334.5L654.5 331.2L657.6 338.9L664.4 325.2L666.9 331.0L669.1 328.8L671.3 331.4L674.0 329.2L676.2 332.3L678.8 329.7L681.9 333.6L685.0 332.8L689.0 337.2L693.0 343.4L697.8 331.2L700.1 333.6L701.8 331.9L704.9 335.4L706.7 333.2L710.2 338.1L712.8 343.0L715.7 333.6L718.8 337.2L721.5 335.4L724.1 335.4L726.4 338.5L729.0 336.3L732.1 340.7L735.2 334.1L738.7 331.9L741.8 338.1L745.8 335.9L748.9 336.3L751.1 340.7L753.8 335.9L756.9 337.2L759.5 335.0L763.1 337.2L766.6 336.3L769.7 337.2L771.9 336.7L775.0 343.4L779.8 333.6L784.3 330.1L786.9 333.6L789.6 331.0L792.7 333.6L795.3 330.5L797.0 331.0L800 331L800 300L633.0 300Z" fill="#ffffff"/>
<mask id="flatmask" maskUnits="userSpaceOnUse" x="570" y="318" width="90" height="45"><path d="M560 310L629.6 310L632.2 327.4L641.4 349L643.5 362L560 362Z" fill="#fff" filter="url(#b1)"/></mask>
<g mask="url(#flatmask)">
<rect x="579.3" y="327" width="70" height="3" fill="#9a2320"/>
<rect x="579.3" y="329.5" width="70" height="6.4" fill="#d8321d"/>
<rect x="579.3" y="335.7" width="70" height="6.1" fill="#ea741d"/>
<rect x="579.3" y="341.6" width="70" height="9" fill="#fdf032"/>
<rect x="579.3" y="350.2" width="70" height="3.2" fill="#c8f56a" filter="url(#b1)"/>
<rect x="579.3" y="353.2" width="70" height="5" fill="#87fdb1"/>
</g>
<rect x="579.3" y="306.8" width="53.9" height="20.6" fill="#4f6b86"/>
<rect x="579.3" y="640" width="216.5" height="54.5" fill="url(#rg)"/>
<rect x="579.3" y="694" width="216.5" height="11.4" fill="#280af5"/>
<rect x="579.3" y="704.8" width="216.5" height="2.4" fill="#2c2a78" filter="url(#soft)"/>
<rect x="579.3" y="706.8" width="216.5" height="21.2" fill="#506e87"/>
</g>
<path d="M576.3 300.0h2.6v11.2h-2.6zM576.3 317.2h2.6v16.4h-2.6zM576.3 337.7h2.6v16.4h-2.6zM576.3 358.2h2.6v16.4h-2.6zM576.3 378.7h2.6v16.4h-2.6zM576.3 399.2h2.6v16.4h-2.6zM576.3 419.7h2.6v16.4h-2.6zM576.3 440.2h2.6v16.4h-2.6zM576.3 464.7h2.6v16.4h-2.6zM576.3 485.0h2.6v16.4h-2.6zM576.3 505.3h2.6v16.4h-2.6zM576.3 525.6h2.6v16.4h-2.6zM576.3 545.9h2.6v16.4h-2.6zM576.3 566.2h2.6v16.4h-2.6zM576.3 586.5h2.6v16.4h-2.6zM576.3 606.8h2.6v16.4h-2.6zM576.3 627.1h2.6v16.4h-2.6zM576.3 647.4h2.6v16.4h-2.6zM576.3 667.7h2.6v16.4h-2.6zM576.3 688.0h2.6v16.4h-2.6zM576.3 708.3h2.6v16.4h-2.6zM576.3 728.6h2.6v12.6h-2.6z" fill="#0a140c"/>
<path d="M795.4 331.0h2.0v16.2h-2.0zM795.4 350.7h2.0v16.6h-2.0zM795.4 371.1h2.0v16.6h-2.0zM795.4 391.5h2.0v16.6h-2.0zM795.4 411.9h2.0v16.6h-2.0zM795.4 432.3h2.0v16.6h-2.0zM795.4 452.7h2.0v16.6h-2.0zM795.4 473.1h2.0v16.6h-2.0zM795.4 493.5h2.0v16.6h-2.0zM795.4 513.9h2.0v16.6h-2.0zM795.4 534.3h2.0v16.6h-2.0zM795.4 554.7h2.0v16.6h-2.0zM795.4 575.1h2.0v16.6h-2.0zM795.4 595.5h2.0v16.6h-2.0zM795.4 615.9h2.0v16.6h-2.0zM795.4 636.3h2.0v16.6h-2.0zM795.4 656.7h2.0v16.6h-2.0zM795.4 677.1h2.0v16.6h-2.0zM795.4 697.5h2.0v16.6h-2.0zM795.4 717.9h2.0v13.7h-2.0z" fill="#0c2a14"/>
<text transform="translate(527.60 326.00) scale(0.8037 1)" font-family="Liberation Sans, sans-serif" fill="#63676d" xml:space="preserve" ><tspan font-size="20.4" font-weight="normal" font-style="normal" dy="0">Silver</tspan></text>
<text transform="translate(665.40 301.70) scale(0.7924 1)" font-family="Liberation Sans, sans-serif" fill="#a8963a" xml:space="preserve" ><tspan font-size="20.4" font-weight="normal" font-style="normal" dy="0">SiN</tspan><tspan font-size="12.5" font-weight="normal" font-style="normal" dy="4.5">x</tspan></text>
<text transform="translate(665.40 324.70) scale(0.7764 1)" font-family="Liberation Sans, sans-serif" fill="#6d2238" xml:space="preserve" ><tspan font-size="20.4" font-weight="normal" font-style="normal" dy="0">SiO</tspan><tspan font-size="12.5" font-weight="normal" font-style="normal" dy="4.5">2</tspan></text>
<text transform="translate(598.20 375.00) scale(0.7666 1)" font-family="Liberation Sans, sans-serif" fill="#6f8b38" xml:space="preserve" ><tspan font-size="22" font-weight="bold" font-style="normal" dy="0">n++</tspan></text>
<text transform="translate(695.20 390.30) scale(0.7266 1)" font-family="Liberation Sans, sans-serif" fill="#6f8b38" xml:space="preserve" ><tspan font-size="22" font-weight="bold" font-style="normal" dy="0">n+</tspan></text>
<text transform="translate(484.40 507.10) scale(0.8302 1)" font-family="Liberation Sans, sans-serif" fill="#7ba78d" xml:space="preserve" ><tspan font-size="20.4" font-weight="normal" font-style="normal" dy="0">c-Silicon (p)</tspan></text>
<text transform="translate(591.60 606.10) scale(0.7991 1)" font-family="Liberation Sans, sans-serif" fill="#0f2b40" xml:space="preserve" ><tspan font-size="19.6" font-weight="bold" font-style="normal" dy="0">Doped buried p+</tspan></text>
<path d="M658.4 619.9L665.7 640.5" stroke="#0c2a1c" stroke-width="1.1" fill="none"/>
<path d="M668.2 647.6L663.1 641.5L668.3 639.6Z" fill="#0c2a1c"/>
<text transform="translate(489.00 687.60) scale(0.8313 1)" font-family="Liberation Sans, sans-serif" fill="#6c4a30" xml:space="preserve" ><tspan font-size="20.4" font-weight="normal" font-style="normal" dy="0">Thin Oxide</tspan></text>
<clipPath id="docl"><rect x="448.6" y="680" width="130" height="40"/></clipPath>
<g clip-path="url(#docl)">
<text transform="translate(440.50 707.30) scale(0.8518 1)" font-family="Liberation Sans, sans-serif" fill="#29208e" xml:space="preserve" stroke="#29208e" stroke-width="0.6"><tspan font-size="20.4" font-weight="normal" font-style="normal" dy="0">Doped overlayer</tspan></text>
</g>
<text transform="translate(518.80 732.00) scale(0.8116 1)" font-family="Liberation Sans, sans-serif" fill="#6a6a6a" xml:space="preserve" ><tspan font-size="20.4" font-weight="normal" font-style="normal" dy="0">Silver</tspan></text>
<path d="M801.2 681.5H807.4V712.5H801.2M807.4 697.1H822.4" stroke="#1d1d1d" stroke-width="2.1" fill="none"/>
<text transform="translate(830.80 690.00) scale(0.8436 1)" font-family="Liberation Sans, sans-serif" fill="#1e1e1e" xml:space="preserve" stroke="#1e1e1e" stroke-width="0.5"><tspan font-size="20.4" font-weight="normal" font-style="normal" dy="0">Hole Selective</tspan></text>
<text transform="translate(831.00 722.20) scale(0.8563 1)" font-family="Liberation Sans, sans-serif" fill="#1e1e1e" xml:space="preserve" stroke="#1e1e1e" stroke-width="0.5"><tspan font-size="20.4" font-weight="normal" font-style="normal" dy="0">Contact</tspan></text>
<circle cx="864.5" cy="653.8" r="0.9" fill="#222"/>
<text transform="translate(491.60 784.30) scale(0.9156 1)" font-family="Liberation Sans, sans-serif" fill="#1b1b4d" xml:space="preserve" ><tspan font-size="21.6" font-weight="normal" font-style="italic" dy="0">Paul Procela@ University of Calabria(Italy),2019</tspan></text>
<rect x="0" y="410.5" width="1018" height="55" fill="#66782a" fill-opacity="0.725"/>
<text x="147" y="448.1" textLength="726.5" lengthAdjust="spacing" font-family="'Liberation Sans', 'Noto Sans CJK SC', sans-serif" font-size="25.8" font-weight="bold" fill="#ffffff">11月1日最新光电屏,11月1日最新光电屏技术探讨及其发展前景</text>
<g filter="url(#soft)"><text x="733" y="839.9" transform="translate(1.0 1.0)" font-family="'Liberation Sans', 'Noto Sans CJK SC', sans-serif" font-size="24.4" fill="#7d7d7d">中国光伏行业协会CPIA</text>
<path d="M685.1999999999999 828.4a10.2 9.4 0 1 0 20.4 0a10.2 9.4 0 1 0 -20.4 0z M688.0 834.4L687.6 840.4L694.2 837.4z" fill="#7d7d7d" transform="translate(0.9 0.9)"/><path d="M700.4000000000001 835.0a12.3 10.7 0 1 0 24.6 0a12.3 10.7 0 1 0 -24.6 0z M716.6 844.4L721.8 847.8L721.0 841.6z" fill="#7d7d7d" transform="translate(0.9 0.9)"/></g>
<path d="M685.1999999999999 828.4a10.2 9.4 0 1 0 20.4 0a10.2 9.4 0 1 0 -20.4 0z M688.0 834.4L687.6 840.4L694.2 837.4z" fill="#b4b4b4" transform="translate(-0.5 -0.5)"/><path d="M685.1999999999999 828.4a10.2 9.4 0 1 0 20.4 0a10.2 9.4 0 1 0 -20.4 0z M688.0 834.4L687.6 840.4L694.2 837.4z" fill="#ffffff"/>
<path d="M700.4000000000001 835.0a12.3 10.7 0 1 0 24.6 0a12.3 10.7 0 1 0 -24.6 0z M716.6 844.4L721.8 847.8L721.0 841.6z" fill="#ffffff" stroke="#ffffff" stroke-width="1.6"/>
<path d="M700.4000000000001 835.0a12.3 10.7 0 1 0 24.6 0a12.3 10.7 0 1 0 -24.6 0z M716.6 844.4L721.8 847.8L721.0 841.6z" fill="#7d7d7d" transform="translate(0.9 0.9)" filter="url(#soft)"/>
<path d="M700.4000000000001 835.0a12.3 10.7 0 1 0 24.6 0a12.3 10.7 0 1 0 -24.6 0z M716.6 844.4L721.8 847.8L721.0 841.6z" fill="#b4b4b4" transform="translate(-0.5 -0.5)"/><path d="M700.4000000000001 835.0a12.3 10.7 0 1 0 24.6 0a12.3 10.7 0 1 0 -24.6 0z M716.6 844.4L721.8 847.8L721.0 841.6z" fill="#ffffff"/>
<g fill="#8a8a8a"><circle cx="693.9" cy="822.0" r="1"/><circle cx="703.2" cy="822.0" r="1"/><circle cx="708.8" cy="831.6" r="1.1"/><circle cx="717.4" cy="831.6" r="1.1"/></g>
<text x="733" y="839.9" font-family="'Liberation Sans', 'Noto Sans CJK SC', sans-serif" font-size="24.4" fill="#ffffff">中国光伏行业协会CPIA</text>
</svg>
</body></html>
